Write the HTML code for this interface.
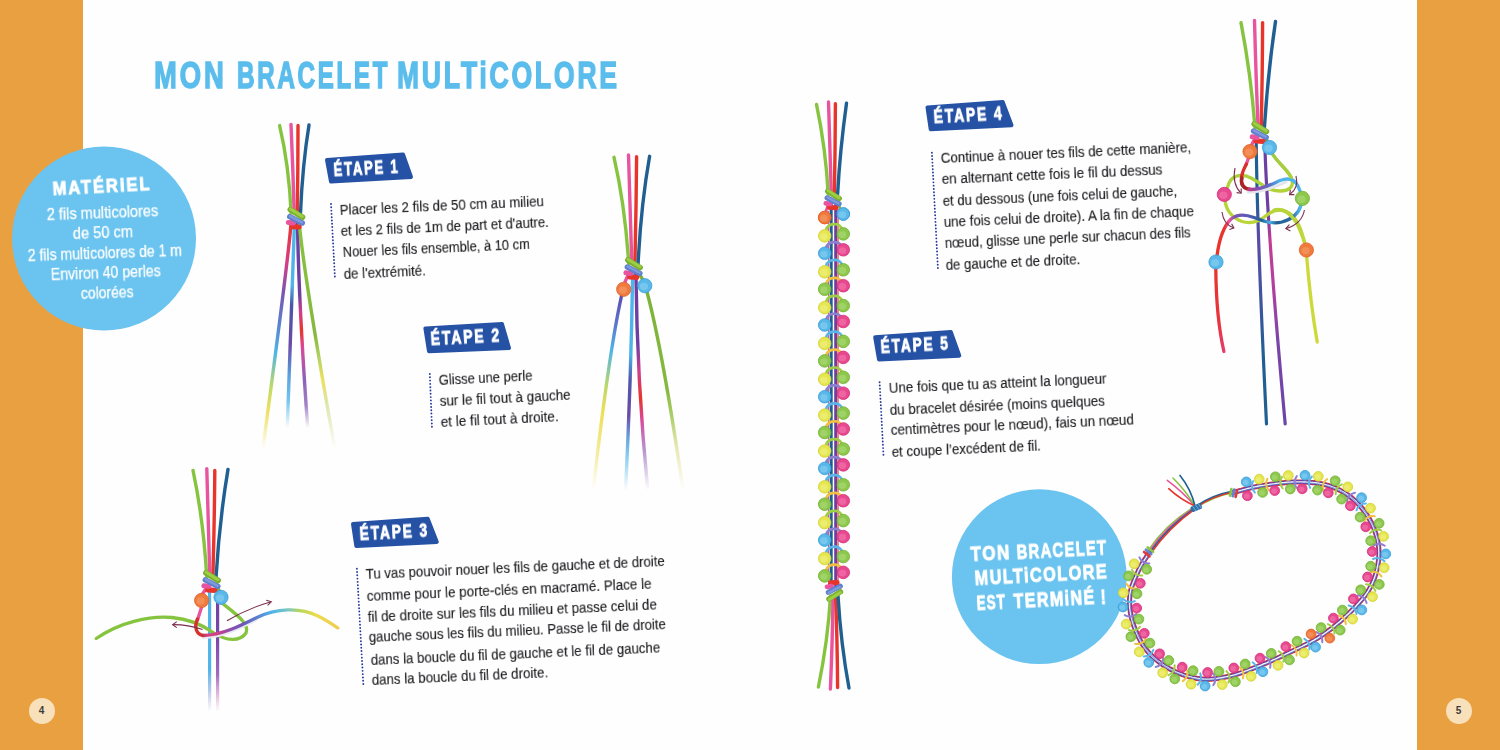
<!DOCTYPE html>
<html lang="fr"><head><meta charset="utf-8"><title>Mon bracelet multicolore</title>
<style>
html,body{margin:0;padding:0;}
body{width:1500px;height:750px;overflow:hidden;position:relative;background:#fefefe;font-family:"Liberation Sans",sans-serif;color:#2a2a2d;}
.bar{position:absolute;top:0;height:750px;background:#e9a040;}
#art{position:absolute;left:0;top:0;width:1500px;height:750px;}
.t{position:absolute;white-space:nowrap;line-height:1;will-change:transform;}
.body{color:#1f1f22;-webkit-text-stroke:0.15px #1f1f22;}
.mat{color:#fff;-webkit-text-stroke:0.25px #fff;}
.h{font-weight:bold;color:#fff;-webkit-text-stroke:0.9px #fff;}
.title{font-weight:bold;color:#5bbdec;-webkit-text-stroke:1.5px #5bbdec;}
.pg{position:absolute;width:26px;height:26px;border-radius:50%;background:#f8e0bb;color:#3d3d3d;font-size:10px;font-weight:bold;text-align:center;line-height:26px;}
</style></head><body>
<div class="bar" style="left:0;width:83px"></div>
<div class="bar" style="left:1417px;width:83px"></div>
<svg id="art" width="1500" height="750" viewBox="0 0 1500 750"><defs><linearGradient id="g1" gradientUnits="userSpaceOnUse" x1="0" y1="222" x2="0" y2="449"><stop offset="0.0" stop-color="#e7352c"/><stop offset="0.176" stop-color="#d83c86"/><stop offset="0.308" stop-color="#7a55b0"/><stop offset="0.454" stop-color="#5a82cf"/><stop offset="0.573" stop-color="#4fb4e9"/><stop offset="0.718" stop-color="#b9d86a"/><stop offset="0.828" stop-color="#ecdc4e" stop-opacity="0.9"/><stop offset="1.0" stop-color="#ecdc4e" stop-opacity="0"/></linearGradient><linearGradient id="g2" gradientUnits="userSpaceOnUse" x1="0" y1="222" x2="0" y2="428"><stop offset="0.0" stop-color="#4fb4e9"/><stop offset="0.306" stop-color="#4fb4e9"/><stop offset="0.403" stop-color="#4a55a8"/><stop offset="0.597" stop-color="#6a4aa8"/><stop offset="0.743" stop-color="#5aa0dc"/><stop offset="0.864" stop-color="#4fb4e9" stop-opacity="0.8"/><stop offset="1.0" stop-color="#4fb4e9" stop-opacity="0"/></linearGradient><linearGradient id="g3" gradientUnits="userSpaceOnUse" x1="0" y1="222" x2="0" y2="428"><stop offset="0.0" stop-color="#6d3fa2"/><stop offset="0.354" stop-color="#6d3fa2"/><stop offset="0.437" stop-color="#d13f8c"/><stop offset="0.524" stop-color="#e7352c"/><stop offset="0.612" stop-color="#d9489a"/><stop offset="0.767" stop-color="#8a62b8"/><stop offset="0.888" stop-color="#8a62b8" stop-opacity="0.8"/><stop offset="1.0" stop-color="#8a62b8" stop-opacity="0"/></linearGradient><linearGradient id="g4" gradientUnits="userSpaceOnUse" x1="0" y1="222" x2="0" y2="449"><stop offset="0.0" stop-color="#86c440"/><stop offset="0.498" stop-color="#86b83e"/><stop offset="0.599" stop-color="#b4d264"/><stop offset="0.696" stop-color="#ecdc4e" stop-opacity="0.9"/><stop offset="0.806" stop-color="#cfdc8a" stop-opacity="0.7"/><stop offset="1.0" stop-color="#cfdc8a" stop-opacity="0"/></linearGradient><linearGradient id="g5" gradientUnits="userSpaceOnUse" x1="0" y1="296" x2="0" y2="490"><stop offset="0.0" stop-color="#5b4fb0"/><stop offset="0.149" stop-color="#5a78cc"/><stop offset="0.278" stop-color="#4fb4e9"/><stop offset="0.459" stop-color="#b9d86a"/><stop offset="0.588" stop-color="#ecdc4e" stop-opacity="0.95"/><stop offset="0.742" stop-color="#ecdc4e" stop-opacity="0.7"/><stop offset="1.0" stop-color="#ecdc4e" stop-opacity="0"/></linearGradient><linearGradient id="g6" gradientUnits="userSpaceOnUse" x1="0" y1="272" x2="0" y2="490"><stop offset="0.0" stop-color="#4fb4e9"/><stop offset="0.381" stop-color="#4fb4e9"/><stop offset="0.495" stop-color="#4f57ad"/><stop offset="0.656" stop-color="#6a4aa8"/><stop offset="0.771" stop-color="#5aa0dc" stop-opacity="0.9"/><stop offset="0.862" stop-color="#4fb4e9" stop-opacity="0.6"/><stop offset="1.0" stop-color="#4fb4e9" stop-opacity="0"/></linearGradient><linearGradient id="g7" gradientUnits="userSpaceOnUse" x1="0" y1="272" x2="0" y2="490"><stop offset="0.0" stop-color="#6d3fa2"/><stop offset="0.335" stop-color="#6d3fa2"/><stop offset="0.459" stop-color="#d13f8c"/><stop offset="0.578" stop-color="#e7352c"/><stop offset="0.679" stop-color="#d9489a"/><stop offset="0.817" stop-color="#a57ac4" stop-opacity="0.8"/><stop offset="1.0" stop-color="#a57ac4" stop-opacity="0"/></linearGradient><linearGradient id="g8" gradientUnits="userSpaceOnUse" x1="0" y1="290" x2="0" y2="490"><stop offset="0.0" stop-color="#7db23a"/><stop offset="0.5" stop-color="#86b83e"/><stop offset="0.65" stop-color="#a9cc62" stop-opacity="0.9"/><stop offset="0.8" stop-color="#dcdc8a" stop-opacity="0.6"/><stop offset="1.0" stop-color="#dcdc8a" stop-opacity="0"/></linearGradient><linearGradient id="g9" gradientUnits="userSpaceOnUse" x1="0" y1="585" x2="0" y2="712"><stop offset="0.0" stop-color="#4fb4e9"/><stop offset="0.669" stop-color="#4fb4e9"/><stop offset="0.827" stop-color="#9dbbe6" stop-opacity="0.8"/><stop offset="1.0" stop-color="#c9b7e0" stop-opacity="0"/></linearGradient><linearGradient id="g10" gradientUnits="userSpaceOnUse" x1="0" y1="585" x2="0" y2="712"><stop offset="0.0" stop-color="#6d3fa2"/><stop offset="0.433" stop-color="#7a4aa8"/><stop offset="0.709" stop-color="#a06cc0"/><stop offset="0.866" stop-color="#d7a0d0" stop-opacity="0.7"/><stop offset="1.0" stop-color="#e0b0d8" stop-opacity="0"/></linearGradient><linearGradient id="g11" gradientUnits="userSpaceOnUse" x1="200" y1="0" x2="338" y2="0"><stop offset="0" stop-color="#b5282a"/><stop offset="0.05" stop-color="#d8407a"/><stop offset="0.13" stop-color="#cc3f8e"/><stop offset="0.22" stop-color="#8a4fb0"/><stop offset="0.32" stop-color="#6a58b8"/><stop offset="0.4" stop-color="#5a7ccc"/><stop offset="0.52" stop-color="#4fb4e9"/><stop offset="0.64" stop-color="#7cc8c0"/><stop offset="0.72" stop-color="#b6d65a"/><stop offset="0.84" stop-color="#ecdc4e"/><stop offset="1" stop-color="#f0cc50"/></linearGradient><linearGradient id="g12" gradientUnits="userSpaceOnUse" x1="0" y1="136" x2="0" y2="426"><stop offset="0.0" stop-color="#1f5f92"/><stop offset="0.221" stop-color="#1f5f92"/><stop offset="0.341" stop-color="#5a4aa8"/><stop offset="0.566" stop-color="#3f55a0"/><stop offset="0.772" stop-color="#1f5f92"/><stop offset="1.0" stop-color="#1f5f92"/></linearGradient><linearGradient id="g13" gradientUnits="userSpaceOnUse" x1="0" y1="136" x2="0" y2="426"><stop offset="0.0" stop-color="#6d3fa2"/><stop offset="0.272" stop-color="#6d3fa2"/><stop offset="0.359" stop-color="#c33c96"/><stop offset="0.531" stop-color="#b03fa0"/><stop offset="0.703" stop-color="#7a45a8"/><stop offset="1.0" stop-color="#6a45a8"/></linearGradient><linearGradient id="g14" gradientUnits="userSpaceOnUse" x1="0" y1="150" x2="0" y2="345"><stop offset="0.0" stop-color="#9ccb3e"/><stop offset="0.179" stop-color="#b0d23a"/><stop offset="0.41" stop-color="#bcd638"/><stop offset="0.564" stop-color="#c8d93a"/><stop offset="1.0" stop-color="#d6dc3c"/></linearGradient><linearGradient id="g15" gradientUnits="userSpaceOnUse" x1="1248" y1="0" x2="1300" y2="0"><stop offset="0" stop-color="#c43a80"/><stop offset="0.18" stop-color="#8a4fb0"/><stop offset="0.4" stop-color="#5a6cc4"/><stop offset="0.62" stop-color="#4fb4e9"/><stop offset="1" stop-color="#4fb4e9"/></linearGradient><linearGradient id="g16" gradientUnits="userSpaceOnUse" x1="1300" y1="0" x2="1216" y2="0"><stop offset="0" stop-color="#4fb4e9"/><stop offset="0.1" stop-color="#2f6aa8"/><stop offset="0.28" stop-color="#1f5f92"/><stop offset="0.36" stop-color="#4fb4e9"/><stop offset="0.46" stop-color="#1f5f92"/><stop offset="0.62" stop-color="#5a5ab8"/><stop offset="0.78" stop-color="#7a55b0"/><stop offset="0.84" stop-color="#e9549f"/><stop offset="0.9" stop-color="#e7352c"/><stop offset="1" stop-color="#e7352c"/></linearGradient><linearGradient id="g17" gradientUnits="userSpaceOnUse" x1="0" y1="268" x2="0" y2="352"><stop offset="0.0" stop-color="#e7352c"/><stop offset="0.619" stop-color="#e8343c"/><stop offset="1.0" stop-color="#e43d6c"/></linearGradient></defs><circle cx="104" cy="238.5" r="92" fill="#6bc4ef"/>
<circle cx="1039.3" cy="576.7" r="87.4" fill="#6bc4ef"/>
<path d="M327.0,160.0 L403.0,154.4 L411.0,177.0 L331.0,181.6 Z" fill="#2652a5" stroke="#2652a5" stroke-width="4" stroke-linejoin="round"/>
<path d="M425.4,328.5 L502.0,324.0 L509.0,348.0 L429.0,351.3 Z" fill="#2652a5" stroke="#2652a5" stroke-width="4" stroke-linejoin="round"/>
<path d="M353.0,524.0 L427.7,518.7 L436.8,542.0 L356.3,546.0 Z" fill="#2652a5" stroke="#2652a5" stroke-width="4" stroke-linejoin="round"/>
<path d="M927.5,107.5 L1002.7,102.0 L1011.5,125.3 L930.7,129.3 Z" fill="#2652a5" stroke="#2652a5" stroke-width="4" stroke-linejoin="round"/>
<path d="M875.2,337.3 L950.8,332.0 L959.3,355.7 L879.0,359.5 Z" fill="#2652a5" stroke="#2652a5" stroke-width="4" stroke-linejoin="round"/>
<line x1="331" y1="204" x2="335" y2="279" stroke="#27399a" stroke-width="1.9" stroke-linecap="round" stroke-dasharray="0 3.3"/>
<line x1="429.8" y1="374" x2="432" y2="428" stroke="#27399a" stroke-width="1.9" stroke-linecap="round" stroke-dasharray="0 3.3"/>
<line x1="356.9" y1="568.7" x2="363.4" y2="685.7" stroke="#27399a" stroke-width="1.9" stroke-linecap="round" stroke-dasharray="0 3.3"/>
<line x1="931.9" y1="152.7" x2="938" y2="270" stroke="#27399a" stroke-width="1.9" stroke-linecap="round" stroke-dasharray="0 3.3"/>
<line x1="879.6" y1="382.2" x2="883.5" y2="455.8" stroke="#27399a" stroke-width="1.9" stroke-linecap="round" stroke-dasharray="0 3.3"/>
<path d="M291.2,222 Q288,262 262.8,449" fill="none" stroke="url(#g1)" stroke-width="3.4" stroke-linecap="round" stroke-linejoin="round" />
<path d="M294.5,222 Q292,300 287.3,428" fill="none" stroke="url(#g2)" stroke-width="3.4" stroke-linecap="round" stroke-linejoin="round" />
<path d="M297.5,222 Q298.5,300 307.7,428" fill="none" stroke="url(#g3)" stroke-width="3.4" stroke-linecap="round" stroke-linejoin="round" />
<path d="M299.2,222 Q303,270 334.8,449" fill="none" stroke="url(#g4)" stroke-width="3.4" stroke-linecap="round" stroke-linejoin="round" />
<path d="M279.6,125.6 Q289,165 291.1,213" fill="none" stroke="#86c440" stroke-width="3.4" stroke-linecap="round" stroke-linejoin="round" />
<path d="M291,124.4 Q293,170 294.2,213" fill="none" stroke="#e9549f" stroke-width="3.4" stroke-linecap="round" stroke-linejoin="round" />
<path d="M298,125.5 Q298,170 297.3,213" fill="none" stroke="#e7352c" stroke-width="3.4" stroke-linecap="round" stroke-linejoin="round" />
<path d="M309,125 Q302.5,165 300.5,213" fill="none" stroke="#1f5f92" stroke-width="3.4" stroke-linecap="round" stroke-linejoin="round" />
<line x1="292.1" y1="226.6" x2="299.1" y2="227.0" stroke="#e7352c" stroke-width="5.20" stroke-linecap="round"/>
<line x1="288.3" y1="222.4" x2="293.2" y2="223.0" stroke="#e9549f" stroke-width="5.00" stroke-linecap="round"/>
<line x1="289.7" y1="216.6" x2="302.3" y2="223.0" stroke="#5f7fcf" stroke-width="5.40" stroke-linecap="round"/>
<line x1="290.1" y1="216.1" x2="301.9" y2="222.4" stroke="#7f9bdd" stroke-width="2.40" stroke-linecap="round"/>
<line x1="290.3" y1="209.6" x2="302.5" y2="217.2" stroke="#79b030" stroke-width="5.60" stroke-linecap="round"/>
<line x1="290.5" y1="209.0" x2="302.3" y2="216.4" stroke="#9fce45" stroke-width="3.00" stroke-linecap="round"/>
<path d="M621.5,296 Q609,352 593.2,490" fill="none" stroke="url(#g5)" stroke-width="3.4" stroke-linecap="round" stroke-linejoin="round" />
<path d="M632.6999999999999,272 Q631,380 625.6,490" fill="none" stroke="url(#g6)" stroke-width="3.4" stroke-linecap="round" stroke-linejoin="round" />
<path d="M635.9,272 Q637,380 647.7,490" fill="none" stroke="url(#g7)" stroke-width="3.4" stroke-linecap="round" stroke-linejoin="round" />
<path d="M647,292 Q663,352 683,490" fill="none" stroke="url(#g8)" stroke-width="3.4" stroke-linecap="round" stroke-linejoin="round" />
<path d="M628.3,274.4 L625,282" fill="none" stroke="#e9549f" stroke-width="3.4" stroke-linecap="round" stroke-linejoin="round" />
<path d="M638.3,272.4 L643,280" fill="none" stroke="#7db23a" stroke-width="3.4" stroke-linecap="round" stroke-linejoin="round" />
<path d="M614,157.3 Q625,205 628.7,263.4" fill="none" stroke="#86c440" stroke-width="3.4" stroke-linecap="round" stroke-linejoin="round" />
<path d="M628.5,155 Q630,210 631.8,263.4" fill="none" stroke="#e9549f" stroke-width="3.4" stroke-linecap="round" stroke-linejoin="round" />
<path d="M636.6,156.8 Q636.2,210 634.9,263.4" fill="none" stroke="#e7352c" stroke-width="3.4" stroke-linecap="round" stroke-linejoin="round" />
<path d="M649.6,156.3 Q641,205 638.1,263.4" fill="none" stroke="#1f5f92" stroke-width="3.4" stroke-linecap="round" stroke-linejoin="round" />
<line x1="629.7" y1="277.0" x2="636.7" y2="277.4" stroke="#e7352c" stroke-width="5.20" stroke-linecap="round"/>
<line x1="625.9" y1="272.8" x2="630.8" y2="273.4" stroke="#e9549f" stroke-width="5.00" stroke-linecap="round"/>
<line x1="627.3" y1="267.0" x2="639.9" y2="273.4" stroke="#5f7fcf" stroke-width="5.40" stroke-linecap="round"/>
<line x1="627.7" y1="266.5" x2="639.5" y2="272.8" stroke="#7f9bdd" stroke-width="2.40" stroke-linecap="round"/>
<line x1="627.9" y1="260.0" x2="640.1" y2="267.6" stroke="#79b030" stroke-width="5.60" stroke-linecap="round"/>
<line x1="628.1" y1="259.4" x2="639.9" y2="266.8" stroke="#9fce45" stroke-width="3.00" stroke-linecap="round"/>
<circle cx="623.7" cy="289.3" r="7.10" fill="#ef7a3c" stroke="#e2602a" stroke-width="0.8"/>
<ellipse cx="622.8" cy="290.1" rx="4.12" ry="3.75" fill="#f6a777" opacity="0.45"/>
<circle cx="644.8" cy="285.7" r="7.10" fill="#58b8ea" stroke="#3b9dd6" stroke-width="0.8"/>
<ellipse cx="643.9" cy="286.4" rx="4.12" ry="3.75" fill="#9bd6f5" opacity="0.45"/>
<path d="M209.6,585 L209.6,710" fill="none" stroke="url(#g9)" stroke-width="3.2" stroke-linecap="round" stroke-linejoin="round" />
<path d="M217.6,585 L217.6,710" fill="none" stroke="url(#g10)" stroke-width="3.2" stroke-linecap="round" stroke-linejoin="round" />
<path d="M96.2,638.5 C120,622 150,615.5 172,617.5 C190,619 204,626 214,633 C226,641 240,642 246,633 C250,624 236,614 222,603" fill="none" stroke="#86c440" stroke-width="3.3" stroke-linecap="round" stroke-linejoin="round" />
<path d="M201.6,607 L197.5,620" fill="none" stroke="#e9549f" stroke-width="3.3" stroke-linecap="round" stroke-linejoin="round" />
<path d="M197.5,619 C194,627 196,634 203,635.5" fill="none" stroke="#d8312c" stroke-width="3.4" stroke-linecap="round" stroke-linejoin="round" />
<path d="M203,637.5 C222,637 240,628 256,619.7" fill="none" stroke="#e8e8ee" stroke-width="3.0" stroke-linecap="round" stroke-linejoin="round" />
<path d="M203,635.5 C222,635 240,626 256.4,617.7 C276,608 300,607 318,616 C326,620 332,624 337.8,628" fill="none" stroke="url(#g11)" stroke-width="3.3" stroke-linecap="round" stroke-linejoin="round" />
<path d="M206.8,587.3 L202.5,594" fill="none" stroke="#e9549f" stroke-width="3.4" stroke-linecap="round" stroke-linejoin="round" />
<path d="M215.8,585.3 L220,592" fill="none" stroke="#7db23a" stroke-width="3.4" stroke-linecap="round" stroke-linejoin="round" />
<path d="M193,470.4 Q203.5,520 206.7,576.3" fill="none" stroke="#86c440" stroke-width="3.4" stroke-linecap="round" stroke-linejoin="round" />
<path d="M206.8,468.7 Q208.2,525 209.8,576.3" fill="none" stroke="#e9549f" stroke-width="3.4" stroke-linecap="round" stroke-linejoin="round" />
<path d="M214.8,470.4 Q214.4,525 212.9,576.3" fill="none" stroke="#e7352c" stroke-width="3.4" stroke-linecap="round" stroke-linejoin="round" />
<path d="M228,469.4 Q219.5,520 216.1,576.3" fill="none" stroke="#1f5f92" stroke-width="3.4" stroke-linecap="round" stroke-linejoin="round" />
<line x1="207.7" y1="589.9" x2="214.7" y2="590.3" stroke="#e7352c" stroke-width="5.20" stroke-linecap="round"/>
<line x1="203.9" y1="585.7" x2="208.8" y2="586.3" stroke="#e9549f" stroke-width="5.00" stroke-linecap="round"/>
<line x1="205.3" y1="579.9" x2="217.9" y2="586.3" stroke="#5f7fcf" stroke-width="5.40" stroke-linecap="round"/>
<line x1="205.7" y1="579.4" x2="217.5" y2="585.7" stroke="#7f9bdd" stroke-width="2.40" stroke-linecap="round"/>
<line x1="205.9" y1="572.9" x2="218.1" y2="580.5" stroke="#79b030" stroke-width="5.60" stroke-linecap="round"/>
<line x1="206.1" y1="572.3" x2="217.9" y2="579.7" stroke="#9fce45" stroke-width="3.00" stroke-linecap="round"/>
<circle cx="201.6" cy="600.4" r="7.10" fill="#ef7a3c" stroke="#e2602a" stroke-width="0.8"/>
<ellipse cx="200.7" cy="601.1" rx="4.12" ry="3.75" fill="#f6a777" opacity="0.45"/>
<circle cx="221.0" cy="597.3" r="7.10" fill="#58b8ea" stroke="#3b9dd6" stroke-width="0.8"/>
<ellipse cx="220.1" cy="598.0" rx="4.12" ry="3.75" fill="#9bd6f5" opacity="0.45"/>
<path d="M227,620.8 C240,613 256,606 270.5,602" fill="none" stroke="#7b2f4d" stroke-width="1.1"/>
<path d="M266.2,600.2 L271.3,601.8 L267.6,605.4" fill="none" stroke="#7b2f4d" stroke-width="1.1"/>
<path d="M202.6,629.6 C192,626 182,624.5 173.2,624.6" fill="none" stroke="#7b2f4d" stroke-width="1.1"/>
<path d="M176.8,621.6 L172.6,624.7 L176.8,627.6" fill="none" stroke="#7b2f4d" stroke-width="1.1"/>
<path d="M816.5,104.4 Q826,150 828.2,194.2" fill="none" stroke="#86c440" stroke-width="3.4" stroke-linecap="round" stroke-linejoin="round" />
<path d="M828.5,102 Q829.8,150 831.3,194.2" fill="none" stroke="#e9549f" stroke-width="3.4" stroke-linecap="round" stroke-linejoin="round" />
<path d="M835.4,103.7 Q835.2,150 834.4,194.2" fill="none" stroke="#e7352c" stroke-width="3.4" stroke-linecap="round" stroke-linejoin="round" />
<path d="M846.5,103.2 Q840,150 837.6,194.2" fill="none" stroke="#1f5f92" stroke-width="3.4" stroke-linecap="round" stroke-linejoin="round" />
<path d="M830.5,596 Q828,640 818.4,687" fill="none" stroke="#86c440" stroke-width="3.4" stroke-linecap="round" stroke-linejoin="round" />
<path d="M833,596 Q832.5,640 830.4,689" fill="none" stroke="#e9549f" stroke-width="3.4" stroke-linecap="round" stroke-linejoin="round" />
<path d="M835.6,596 Q837.3,640 837.6,687.5" fill="none" stroke="#e7352c" stroke-width="3.4" stroke-linecap="round" stroke-linejoin="round" />
<path d="M838,596 Q841,645 849,688" fill="none" stroke="#1f5f92" stroke-width="3.4" stroke-linecap="round" stroke-linejoin="round" />
<path d="M831.2,203.2 L831.2,587" fill="none" stroke="#1f5f92" stroke-width="3.0" stroke-linecap="round" stroke-linejoin="round" />
<path d="M835.6,203.2 L835.6,587" fill="none" stroke="#6d3fa2" stroke-width="2.8" stroke-linecap="round" stroke-linejoin="round" />
<path d="M838.0,209.2 L838.0,585" fill="none" stroke="#e7352c" stroke-width="1.2" stroke-linecap="round" stroke-linejoin="round" />
<path d="M828.6,211.2 L828.6,585" fill="none" stroke="#d94a8e" stroke-width="1.0" stroke-linecap="round" stroke-linejoin="round" />
<circle cx="824.7" cy="217.5" r="6.30" fill="#ef7a3c" stroke="#e2602a" stroke-width="0.8"/>
<ellipse cx="823.9" cy="218.2" rx="3.69" ry="3.35" fill="#f6a777" opacity="0.45"/>
<circle cx="843.3" cy="214.0" r="6.30" fill="#58b8ea" stroke="#3b9dd6" stroke-width="0.8"/>
<ellipse cx="842.5" cy="214.7" rx="3.69" ry="3.35" fill="#9bd6f5" opacity="0.45"/>
<path d="M826.5,229.42000000000002 L826.0,232.92000000000002" fill="none" stroke="#e9549f" stroke-width="2.4" stroke-linecap="round" stroke-linejoin="round" />
<path d="M841.5,228.42000000000002 L842.5,231.92000000000002" fill="none" stroke="#e7352c" stroke-width="2.4" stroke-linecap="round" stroke-linejoin="round" />
<path d="M826.0,229.92000000000002 C828.0,222.92000000000002 839.0,221.92000000000002 842.0,228.92000000000002" fill="none" stroke="#9fce45" stroke-width="2.7" stroke-linecap="round" stroke-linejoin="round" />
<circle cx="824.7" cy="235.9" r="6.30" fill="#e6e64f" stroke="#cfd238" stroke-width="0.8"/>
<ellipse cx="823.9" cy="236.6" rx="3.69" ry="3.35" fill="#f3f39a" opacity="0.45"/>
<circle cx="843.3" cy="233.9" r="6.30" fill="#8dc84c" stroke="#72b136" stroke-width="0.8"/>
<ellipse cx="842.5" cy="234.6" rx="3.69" ry="3.35" fill="#b9e08a" opacity="0.45"/>
<path d="M826.5,247.34 L826.0,250.84" fill="none" stroke="#e7352c" stroke-width="2.4" stroke-linecap="round" stroke-linejoin="round" />
<path d="M841.5,246.34 L842.5,249.84" fill="none" stroke="#4fb4e9" stroke-width="2.4" stroke-linecap="round" stroke-linejoin="round" />
<path d="M826.0,247.84 C828.0,240.84 839.0,239.84 842.0,246.84" fill="none" stroke="#8f7fd0" stroke-width="2.7" stroke-linecap="round" stroke-linejoin="round" />
<circle cx="824.7" cy="253.3" r="6.30" fill="#58b8ea" stroke="#3b9dd6" stroke-width="0.8"/>
<ellipse cx="823.9" cy="254.0" rx="3.69" ry="3.35" fill="#9bd6f5" opacity="0.45"/>
<circle cx="843.3" cy="249.8" r="6.30" fill="#e8488f" stroke="#d62f7a" stroke-width="0.8"/>
<ellipse cx="842.5" cy="250.5" rx="3.69" ry="3.35" fill="#f38bb8" opacity="0.45"/>
<path d="M826.5,265.26 L826.0,268.76" fill="none" stroke="#4fb4e9" stroke-width="2.4" stroke-linecap="round" stroke-linejoin="round" />
<path d="M841.5,264.26 L842.5,267.76" fill="none" stroke="#e9549f" stroke-width="2.4" stroke-linecap="round" stroke-linejoin="round" />
<path d="M826.0,265.76 C828.0,258.76 839.0,257.76 842.0,264.76" fill="none" stroke="#5ab5e8" stroke-width="2.7" stroke-linecap="round" stroke-linejoin="round" />
<circle cx="824.7" cy="271.8" r="6.30" fill="#e6e64f" stroke="#cfd238" stroke-width="0.8"/>
<ellipse cx="823.9" cy="272.4" rx="3.69" ry="3.35" fill="#f3f39a" opacity="0.45"/>
<circle cx="843.3" cy="269.8" r="6.30" fill="#8dc84c" stroke="#72b136" stroke-width="0.8"/>
<ellipse cx="842.5" cy="270.4" rx="3.69" ry="3.35" fill="#b9e08a" opacity="0.45"/>
<path d="M826.5,283.18 L826.0,286.68" fill="none" stroke="#e9549f" stroke-width="2.4" stroke-linecap="round" stroke-linejoin="round" />
<path d="M841.5,282.18 L842.5,285.68" fill="none" stroke="#e9549f" stroke-width="2.4" stroke-linecap="round" stroke-linejoin="round" />
<path d="M826.0,283.68 C828.0,276.68 839.0,275.68 842.0,282.68" fill="none" stroke="#f2c040" stroke-width="2.7" stroke-linecap="round" stroke-linejoin="round" />
<circle cx="824.7" cy="289.2" r="6.30" fill="#8dc84c" stroke="#72b136" stroke-width="0.8"/>
<ellipse cx="823.9" cy="289.9" rx="3.69" ry="3.35" fill="#b9e08a" opacity="0.45"/>
<circle cx="843.3" cy="285.7" r="6.30" fill="#e8488f" stroke="#d62f7a" stroke-width="0.8"/>
<ellipse cx="842.5" cy="286.4" rx="3.69" ry="3.35" fill="#f38bb8" opacity="0.45"/>
<path d="M826.5,301.1 L826.0,304.6" fill="none" stroke="#e9549f" stroke-width="2.4" stroke-linecap="round" stroke-linejoin="round" />
<path d="M841.5,300.1 L842.5,303.6" fill="none" stroke="#e7352c" stroke-width="2.4" stroke-linecap="round" stroke-linejoin="round" />
<path d="M826.0,301.6 C828.0,294.6 839.0,293.6 842.0,300.6" fill="none" stroke="#9fce45" stroke-width="2.7" stroke-linecap="round" stroke-linejoin="round" />
<circle cx="824.7" cy="307.6" r="6.30" fill="#e6e64f" stroke="#cfd238" stroke-width="0.8"/>
<ellipse cx="823.9" cy="308.3" rx="3.69" ry="3.35" fill="#f3f39a" opacity="0.45"/>
<circle cx="843.3" cy="305.6" r="6.30" fill="#8dc84c" stroke="#72b136" stroke-width="0.8"/>
<ellipse cx="842.5" cy="306.3" rx="3.69" ry="3.35" fill="#b9e08a" opacity="0.45"/>
<path d="M826.5,319.02 L826.0,322.52" fill="none" stroke="#e7352c" stroke-width="2.4" stroke-linecap="round" stroke-linejoin="round" />
<path d="M841.5,318.02 L842.5,321.52" fill="none" stroke="#4fb4e9" stroke-width="2.4" stroke-linecap="round" stroke-linejoin="round" />
<path d="M826.0,319.52 C828.0,312.52 839.0,311.52 842.0,318.52" fill="none" stroke="#8f7fd0" stroke-width="2.7" stroke-linecap="round" stroke-linejoin="round" />
<circle cx="824.7" cy="325.0" r="6.30" fill="#58b8ea" stroke="#3b9dd6" stroke-width="0.8"/>
<ellipse cx="823.9" cy="325.7" rx="3.69" ry="3.35" fill="#9bd6f5" opacity="0.45"/>
<circle cx="843.3" cy="321.5" r="6.30" fill="#e8488f" stroke="#d62f7a" stroke-width="0.8"/>
<ellipse cx="842.5" cy="322.2" rx="3.69" ry="3.35" fill="#f38bb8" opacity="0.45"/>
<path d="M826.5,336.94 L826.0,340.44" fill="none" stroke="#4fb4e9" stroke-width="2.4" stroke-linecap="round" stroke-linejoin="round" />
<path d="M841.5,335.94 L842.5,339.44" fill="none" stroke="#e9549f" stroke-width="2.4" stroke-linecap="round" stroke-linejoin="round" />
<path d="M826.0,337.44 C828.0,330.44 839.0,329.44 842.0,336.44" fill="none" stroke="#5ab5e8" stroke-width="2.7" stroke-linecap="round" stroke-linejoin="round" />
<circle cx="824.7" cy="343.4" r="6.30" fill="#e6e64f" stroke="#cfd238" stroke-width="0.8"/>
<ellipse cx="823.9" cy="344.1" rx="3.69" ry="3.35" fill="#f3f39a" opacity="0.45"/>
<circle cx="843.3" cy="341.4" r="6.30" fill="#8dc84c" stroke="#72b136" stroke-width="0.8"/>
<ellipse cx="842.5" cy="342.1" rx="3.69" ry="3.35" fill="#b9e08a" opacity="0.45"/>
<path d="M826.5,354.86 L826.0,358.36" fill="none" stroke="#e9549f" stroke-width="2.4" stroke-linecap="round" stroke-linejoin="round" />
<path d="M841.5,353.86 L842.5,357.36" fill="none" stroke="#e9549f" stroke-width="2.4" stroke-linecap="round" stroke-linejoin="round" />
<path d="M826.0,355.36 C828.0,348.36 839.0,347.36 842.0,354.36" fill="none" stroke="#f2c040" stroke-width="2.7" stroke-linecap="round" stroke-linejoin="round" />
<circle cx="824.7" cy="360.9" r="6.30" fill="#8dc84c" stroke="#72b136" stroke-width="0.8"/>
<ellipse cx="823.9" cy="361.5" rx="3.69" ry="3.35" fill="#b9e08a" opacity="0.45"/>
<circle cx="843.3" cy="357.4" r="6.30" fill="#e8488f" stroke="#d62f7a" stroke-width="0.8"/>
<ellipse cx="842.5" cy="358.0" rx="3.69" ry="3.35" fill="#f38bb8" opacity="0.45"/>
<path d="M826.5,372.78000000000003 L826.0,376.28000000000003" fill="none" stroke="#e9549f" stroke-width="2.4" stroke-linecap="round" stroke-linejoin="round" />
<path d="M841.5,371.78000000000003 L842.5,375.28000000000003" fill="none" stroke="#e7352c" stroke-width="2.4" stroke-linecap="round" stroke-linejoin="round" />
<path d="M826.0,373.28000000000003 C828.0,366.28000000000003 839.0,365.28000000000003 842.0,372.28000000000003" fill="none" stroke="#9fce45" stroke-width="2.7" stroke-linecap="round" stroke-linejoin="round" />
<circle cx="824.7" cy="379.3" r="6.30" fill="#e6e64f" stroke="#cfd238" stroke-width="0.8"/>
<ellipse cx="823.9" cy="380.0" rx="3.69" ry="3.35" fill="#f3f39a" opacity="0.45"/>
<circle cx="843.3" cy="377.3" r="6.30" fill="#8dc84c" stroke="#72b136" stroke-width="0.8"/>
<ellipse cx="842.5" cy="378.0" rx="3.69" ry="3.35" fill="#b9e08a" opacity="0.45"/>
<path d="M826.5,390.70000000000005 L826.0,394.20000000000005" fill="none" stroke="#e7352c" stroke-width="2.4" stroke-linecap="round" stroke-linejoin="round" />
<path d="M841.5,389.70000000000005 L842.5,393.20000000000005" fill="none" stroke="#4fb4e9" stroke-width="2.4" stroke-linecap="round" stroke-linejoin="round" />
<path d="M826.0,391.20000000000005 C828.0,384.20000000000005 839.0,383.20000000000005 842.0,390.20000000000005" fill="none" stroke="#8f7fd0" stroke-width="2.7" stroke-linecap="round" stroke-linejoin="round" />
<circle cx="824.7" cy="396.7" r="6.30" fill="#58b8ea" stroke="#3b9dd6" stroke-width="0.8"/>
<ellipse cx="823.9" cy="397.4" rx="3.69" ry="3.35" fill="#9bd6f5" opacity="0.45"/>
<circle cx="843.3" cy="393.2" r="6.30" fill="#e8488f" stroke="#d62f7a" stroke-width="0.8"/>
<ellipse cx="842.5" cy="393.9" rx="3.69" ry="3.35" fill="#f38bb8" opacity="0.45"/>
<path d="M826.5,408.62 L826.0,412.12" fill="none" stroke="#4fb4e9" stroke-width="2.4" stroke-linecap="round" stroke-linejoin="round" />
<path d="M841.5,407.62 L842.5,411.12" fill="none" stroke="#e9549f" stroke-width="2.4" stroke-linecap="round" stroke-linejoin="round" />
<path d="M826.0,409.12 C828.0,402.12 839.0,401.12 842.0,408.12" fill="none" stroke="#5ab5e8" stroke-width="2.7" stroke-linecap="round" stroke-linejoin="round" />
<circle cx="824.7" cy="415.1" r="6.30" fill="#e6e64f" stroke="#cfd238" stroke-width="0.8"/>
<ellipse cx="823.9" cy="415.8" rx="3.69" ry="3.35" fill="#f3f39a" opacity="0.45"/>
<circle cx="843.3" cy="413.1" r="6.30" fill="#8dc84c" stroke="#72b136" stroke-width="0.8"/>
<ellipse cx="842.5" cy="413.8" rx="3.69" ry="3.35" fill="#b9e08a" opacity="0.45"/>
<path d="M826.5,426.54 L826.0,430.04" fill="none" stroke="#e9549f" stroke-width="2.4" stroke-linecap="round" stroke-linejoin="round" />
<path d="M841.5,425.54 L842.5,429.04" fill="none" stroke="#e9549f" stroke-width="2.4" stroke-linecap="round" stroke-linejoin="round" />
<path d="M826.0,427.04 C828.0,420.04 839.0,419.04 842.0,426.04" fill="none" stroke="#f2c040" stroke-width="2.7" stroke-linecap="round" stroke-linejoin="round" />
<circle cx="824.7" cy="432.5" r="6.30" fill="#8dc84c" stroke="#72b136" stroke-width="0.8"/>
<ellipse cx="823.9" cy="433.2" rx="3.69" ry="3.35" fill="#b9e08a" opacity="0.45"/>
<circle cx="843.3" cy="429.0" r="6.30" fill="#e8488f" stroke="#d62f7a" stroke-width="0.8"/>
<ellipse cx="842.5" cy="429.7" rx="3.69" ry="3.35" fill="#f38bb8" opacity="0.45"/>
<path d="M826.5,444.46000000000004 L826.0,447.96000000000004" fill="none" stroke="#e9549f" stroke-width="2.4" stroke-linecap="round" stroke-linejoin="round" />
<path d="M841.5,443.46000000000004 L842.5,446.96000000000004" fill="none" stroke="#e7352c" stroke-width="2.4" stroke-linecap="round" stroke-linejoin="round" />
<path d="M826.0,444.96000000000004 C828.0,437.96000000000004 839.0,436.96000000000004 842.0,443.96000000000004" fill="none" stroke="#9fce45" stroke-width="2.7" stroke-linecap="round" stroke-linejoin="round" />
<circle cx="824.7" cy="451.0" r="6.30" fill="#e6e64f" stroke="#cfd238" stroke-width="0.8"/>
<ellipse cx="823.9" cy="451.6" rx="3.69" ry="3.35" fill="#f3f39a" opacity="0.45"/>
<circle cx="843.3" cy="449.0" r="6.30" fill="#8dc84c" stroke="#72b136" stroke-width="0.8"/>
<ellipse cx="842.5" cy="449.6" rx="3.69" ry="3.35" fill="#b9e08a" opacity="0.45"/>
<path d="M826.5,462.38 L826.0,465.88" fill="none" stroke="#e7352c" stroke-width="2.4" stroke-linecap="round" stroke-linejoin="round" />
<path d="M841.5,461.38 L842.5,464.88" fill="none" stroke="#4fb4e9" stroke-width="2.4" stroke-linecap="round" stroke-linejoin="round" />
<path d="M826.0,462.88 C828.0,455.88 839.0,454.88 842.0,461.88" fill="none" stroke="#8f7fd0" stroke-width="2.7" stroke-linecap="round" stroke-linejoin="round" />
<circle cx="824.7" cy="468.4" r="6.30" fill="#58b8ea" stroke="#3b9dd6" stroke-width="0.8"/>
<ellipse cx="823.9" cy="469.1" rx="3.69" ry="3.35" fill="#9bd6f5" opacity="0.45"/>
<circle cx="843.3" cy="464.9" r="6.30" fill="#e8488f" stroke="#d62f7a" stroke-width="0.8"/>
<ellipse cx="842.5" cy="465.6" rx="3.69" ry="3.35" fill="#f38bb8" opacity="0.45"/>
<path d="M826.5,480.3 L826.0,483.8" fill="none" stroke="#4fb4e9" stroke-width="2.4" stroke-linecap="round" stroke-linejoin="round" />
<path d="M841.5,479.3 L842.5,482.8" fill="none" stroke="#e9549f" stroke-width="2.4" stroke-linecap="round" stroke-linejoin="round" />
<path d="M826.0,480.8 C828.0,473.8 839.0,472.8 842.0,479.8" fill="none" stroke="#5ab5e8" stroke-width="2.7" stroke-linecap="round" stroke-linejoin="round" />
<circle cx="824.7" cy="486.8" r="6.30" fill="#e6e64f" stroke="#cfd238" stroke-width="0.8"/>
<ellipse cx="823.9" cy="487.5" rx="3.69" ry="3.35" fill="#f3f39a" opacity="0.45"/>
<circle cx="843.3" cy="484.8" r="6.30" fill="#8dc84c" stroke="#72b136" stroke-width="0.8"/>
<ellipse cx="842.5" cy="485.5" rx="3.69" ry="3.35" fill="#b9e08a" opacity="0.45"/>
<path d="M826.5,498.22 L826.0,501.72" fill="none" stroke="#e9549f" stroke-width="2.4" stroke-linecap="round" stroke-linejoin="round" />
<path d="M841.5,497.22 L842.5,500.72" fill="none" stroke="#e9549f" stroke-width="2.4" stroke-linecap="round" stroke-linejoin="round" />
<path d="M826.0,498.72 C828.0,491.72 839.0,490.72 842.0,497.72" fill="none" stroke="#f2c040" stroke-width="2.7" stroke-linecap="round" stroke-linejoin="round" />
<circle cx="824.7" cy="504.2" r="6.30" fill="#8dc84c" stroke="#72b136" stroke-width="0.8"/>
<ellipse cx="823.9" cy="504.9" rx="3.69" ry="3.35" fill="#b9e08a" opacity="0.45"/>
<circle cx="843.3" cy="500.7" r="6.30" fill="#e8488f" stroke="#d62f7a" stroke-width="0.8"/>
<ellipse cx="842.5" cy="501.4" rx="3.69" ry="3.35" fill="#f38bb8" opacity="0.45"/>
<path d="M826.5,516.1400000000001 L826.0,519.6400000000001" fill="none" stroke="#e9549f" stroke-width="2.4" stroke-linecap="round" stroke-linejoin="round" />
<path d="M841.5,515.1400000000001 L842.5,518.6400000000001" fill="none" stroke="#e7352c" stroke-width="2.4" stroke-linecap="round" stroke-linejoin="round" />
<path d="M826.0,516.6400000000001 C828.0,509.6400000000001 839.0,508.6400000000001 842.0,515.6400000000001" fill="none" stroke="#9fce45" stroke-width="2.7" stroke-linecap="round" stroke-linejoin="round" />
<circle cx="824.7" cy="522.6" r="6.30" fill="#e6e64f" stroke="#cfd238" stroke-width="0.8"/>
<ellipse cx="823.9" cy="523.3" rx="3.69" ry="3.35" fill="#f3f39a" opacity="0.45"/>
<circle cx="843.3" cy="520.6" r="6.30" fill="#8dc84c" stroke="#72b136" stroke-width="0.8"/>
<ellipse cx="842.5" cy="521.3" rx="3.69" ry="3.35" fill="#b9e08a" opacity="0.45"/>
<path d="M826.5,534.0600000000001 L826.0,537.5600000000001" fill="none" stroke="#e7352c" stroke-width="2.4" stroke-linecap="round" stroke-linejoin="round" />
<path d="M841.5,533.0600000000001 L842.5,536.5600000000001" fill="none" stroke="#4fb4e9" stroke-width="2.4" stroke-linecap="round" stroke-linejoin="round" />
<path d="M826.0,534.5600000000001 C828.0,527.5600000000001 839.0,526.5600000000001 842.0,533.5600000000001" fill="none" stroke="#8f7fd0" stroke-width="2.7" stroke-linecap="round" stroke-linejoin="round" />
<circle cx="824.7" cy="540.1" r="6.30" fill="#58b8ea" stroke="#3b9dd6" stroke-width="0.8"/>
<ellipse cx="823.9" cy="540.7" rx="3.69" ry="3.35" fill="#9bd6f5" opacity="0.45"/>
<circle cx="843.3" cy="536.6" r="6.30" fill="#e8488f" stroke="#d62f7a" stroke-width="0.8"/>
<ellipse cx="842.5" cy="537.2" rx="3.69" ry="3.35" fill="#f38bb8" opacity="0.45"/>
<path d="M826.5,551.98 L826.0,555.48" fill="none" stroke="#4fb4e9" stroke-width="2.4" stroke-linecap="round" stroke-linejoin="round" />
<path d="M841.5,550.98 L842.5,554.48" fill="none" stroke="#e9549f" stroke-width="2.4" stroke-linecap="round" stroke-linejoin="round" />
<path d="M826.0,552.48 C828.0,545.48 839.0,544.48 842.0,551.48" fill="none" stroke="#5ab5e8" stroke-width="2.7" stroke-linecap="round" stroke-linejoin="round" />
<circle cx="824.7" cy="558.5" r="6.30" fill="#e6e64f" stroke="#cfd238" stroke-width="0.8"/>
<ellipse cx="823.9" cy="559.1" rx="3.69" ry="3.35" fill="#f3f39a" opacity="0.45"/>
<circle cx="843.3" cy="556.5" r="6.30" fill="#8dc84c" stroke="#72b136" stroke-width="0.8"/>
<ellipse cx="842.5" cy="557.1" rx="3.69" ry="3.35" fill="#b9e08a" opacity="0.45"/>
<path d="M826.5,569.9000000000001 L826.0,573.4000000000001" fill="none" stroke="#e9549f" stroke-width="2.4" stroke-linecap="round" stroke-linejoin="round" />
<path d="M841.5,568.9000000000001 L842.5,572.4000000000001" fill="none" stroke="#e9549f" stroke-width="2.4" stroke-linecap="round" stroke-linejoin="round" />
<path d="M826.0,570.4000000000001 C828.0,563.4000000000001 839.0,562.4000000000001 842.0,569.4000000000001" fill="none" stroke="#f2c040" stroke-width="2.7" stroke-linecap="round" stroke-linejoin="round" />
<circle cx="824.7" cy="575.9" r="6.30" fill="#8dc84c" stroke="#72b136" stroke-width="0.8"/>
<ellipse cx="823.9" cy="576.6" rx="3.69" ry="3.35" fill="#b9e08a" opacity="0.45"/>
<circle cx="843.3" cy="572.4" r="6.30" fill="#e8488f" stroke="#d62f7a" stroke-width="0.8"/>
<ellipse cx="842.5" cy="573.1" rx="3.69" ry="3.35" fill="#f38bb8" opacity="0.45"/>
<path d="M827.8,205.2 L826,211" fill="none" stroke="#e9549f" stroke-width="2.6" stroke-linecap="round" stroke-linejoin="round" />
<path d="M837.8,203.2 L840,208" fill="none" stroke="#7db23a" stroke-width="2.6" stroke-linecap="round" stroke-linejoin="round" />
<line x1="829.4" y1="207.4" x2="836.0" y2="207.8" stroke="#e7352c" stroke-width="4.94" stroke-linecap="round"/>
<line x1="825.8" y1="203.4" x2="830.4" y2="203.9" stroke="#e9549f" stroke-width="4.75" stroke-linecap="round"/>
<line x1="827.1" y1="197.9" x2="839.1" y2="203.9" stroke="#5f7fcf" stroke-width="5.13" stroke-linecap="round"/>
<line x1="827.5" y1="197.4" x2="838.7" y2="203.4" stroke="#7f9bdd" stroke-width="2.28" stroke-linecap="round"/>
<line x1="827.7" y1="191.2" x2="839.3" y2="198.4" stroke="#79b030" stroke-width="5.32" stroke-linecap="round"/>
<line x1="827.9" y1="190.6" x2="839.1" y2="197.7" stroke="#9fce45" stroke-width="2.85" stroke-linecap="round"/>
<circle cx="824.7" cy="217.5" r="6.30" fill="#ef7a3c" stroke="#e2602a" stroke-width="0.8"/>
<ellipse cx="823.9" cy="218.2" rx="3.69" ry="3.35" fill="#f6a777" opacity="0.45"/>
<circle cx="843.3" cy="214.0" r="6.30" fill="#58b8ea" stroke="#3b9dd6" stroke-width="0.8"/>
<ellipse cx="842.5" cy="214.7" rx="3.69" ry="3.35" fill="#9bd6f5" opacity="0.45"/>
<line x1="830.6" y1="582.8" x2="837.2" y2="582.5" stroke="#e7352c" stroke-width="4.94" stroke-linecap="round"/>
<line x1="827.0" y1="586.8" x2="831.6" y2="586.2" stroke="#e9549f" stroke-width="4.75" stroke-linecap="round"/>
<line x1="828.3" y1="592.3" x2="840.3" y2="586.2" stroke="#5f7fcf" stroke-width="5.13" stroke-linecap="round"/>
<line x1="828.7" y1="592.8" x2="839.9" y2="586.8" stroke="#7f9bdd" stroke-width="2.28" stroke-linecap="round"/>
<line x1="828.9" y1="599.0" x2="840.5" y2="591.8" stroke="#79b030" stroke-width="5.32" stroke-linecap="round"/>
<line x1="829.1" y1="599.5" x2="840.3" y2="592.5" stroke="#9fce45" stroke-width="2.85" stroke-linecap="round"/>
<path d="M1256.2,136 Q1256.6,220 1266.5,424" fill="none" stroke="url(#g12)" stroke-width="3.2" stroke-linecap="round" stroke-linejoin="round" />
<path d="M1264.6,136 Q1266.5,220 1285.2,424" fill="none" stroke="url(#g13)" stroke-width="3.2" stroke-linecap="round" stroke-linejoin="round" />
<path d="M1272.5,154 C1278,163 1286,168 1291,177 C1295,186 1290,191 1280,191 C1268,191 1262,184 1252,178.5 C1243,173.5 1233,174.5 1229,183 L1226.5,190" fill="none" stroke="url(#g14)" stroke-width="3.3" stroke-linecap="round" stroke-linejoin="round" />
<path d="M1225.2,201 C1226,210 1232,218 1242,221.5 C1252,224.5 1260,221 1267,215 C1274,209.5 1282,208.5 1289,213 C1298,219 1302,232 1305,244" fill="none" stroke="url(#g14)" stroke-width="3.3" stroke-linecap="round" stroke-linejoin="round" />
<path d="M1306.6,256 C1309,285 1313,318 1317.2,342" fill="none" stroke="#cdd93a" stroke-width="3.3" stroke-linecap="round" stroke-linejoin="round" />
<path d="M1248.5,158 L1246,165" fill="none" stroke="#e9549f" stroke-width="3.3" stroke-linecap="round" stroke-linejoin="round" />
<path d="M1246.4,164 C1242,172 1239.5,180 1243,185.5 C1245,188.5 1248,189.5 1251,189.5" fill="none" stroke="#d8302c" stroke-width="3.3" stroke-linecap="round" stroke-linejoin="round" />
<path d="M1242,178 C1240,184 1243,188.5 1250,189.5" fill="none" stroke="#a8242a" stroke-width="3.3" stroke-linecap="round" stroke-linejoin="round" />
<path d="M1248,192 C1262,192.5 1275,187 1286,182" fill="none" stroke="#e4e4ec" stroke-width="3" stroke-linecap="round"/>
<path d="M1249,189.5 C1262,190 1272,184 1280,180.5 C1288,177.5 1294,179 1297.5,185 L1300,191" fill="none" stroke="url(#g15)" stroke-width="3.3" stroke-linecap="round" stroke-linejoin="round" />
<path d="M1301,205 C1299,213 1292,219 1282,222 C1272,224.5 1263,221 1254,217.5 C1246,214.5 1237,214 1231,219 C1224,226 1219,240 1217,256" fill="none" stroke="url(#g16)" stroke-width="3.3" stroke-linecap="round" stroke-linejoin="round" />
<path d="M1215.8,268 C1216,300 1219,330 1223.9,351.5" fill="none" stroke="url(#g17)" stroke-width="3.3" stroke-linecap="round" stroke-linejoin="round" />
<path d="M1272.5,154 C1278,163 1286,168 1291,177" fill="none" stroke="url(#g14)" stroke-width="3.3" stroke-linecap="round" stroke-linejoin="round" />
<path d="M1274,210 C1282,208 1290,213 1296,222 C1300,229 1303,238 1305,244" fill="none" stroke="url(#g14)" stroke-width="3.3" stroke-linecap="round" stroke-linejoin="round" />
<path d="M1255.1,138.4 L1251,146" fill="none" stroke="#e9549f" stroke-width="3.4" stroke-linecap="round" stroke-linejoin="round" />
<path d="M1264.1,136.4 L1268,142" fill="none" stroke="#7db23a" stroke-width="3.4" stroke-linecap="round" stroke-linejoin="round" />
<path d="M1241,22.6 Q1251,75 1255.0,127.4" fill="none" stroke="#86c440" stroke-width="3.4" stroke-linecap="round" stroke-linejoin="round" />
<path d="M1254.5,20.5 Q1256,78 1258.1,127.4" fill="none" stroke="#e9549f" stroke-width="3.4" stroke-linecap="round" stroke-linejoin="round" />
<path d="M1262.6,22.6 Q1262.4,78 1261.2,127.4" fill="none" stroke="#e7352c" stroke-width="3.4" stroke-linecap="round" stroke-linejoin="round" />
<path d="M1275.5,21.4 Q1268,72 1264.4,127.4" fill="none" stroke="#1f5f92" stroke-width="3.4" stroke-linecap="round" stroke-linejoin="round" />
<line x1="1256.0" y1="141.0" x2="1263.0" y2="141.4" stroke="#e7352c" stroke-width="5.20" stroke-linecap="round"/>
<line x1="1252.2" y1="136.8" x2="1257.1" y2="137.4" stroke="#e9549f" stroke-width="5.00" stroke-linecap="round"/>
<line x1="1253.6" y1="131.0" x2="1266.2" y2="137.4" stroke="#5f7fcf" stroke-width="5.40" stroke-linecap="round"/>
<line x1="1254.0" y1="130.5" x2="1265.8" y2="136.8" stroke="#7f9bdd" stroke-width="2.40" stroke-linecap="round"/>
<line x1="1254.2" y1="124.0" x2="1266.4" y2="131.6" stroke="#79b030" stroke-width="5.60" stroke-linecap="round"/>
<line x1="1254.4" y1="123.4" x2="1266.2" y2="130.8" stroke="#9fce45" stroke-width="3.00" stroke-linecap="round"/>
<circle cx="1250.0" cy="151.6" r="7.10" fill="#ef7a3c" stroke="#e2602a" stroke-width="0.8"/>
<ellipse cx="1249.1" cy="152.3" rx="4.12" ry="3.75" fill="#f6a777" opacity="0.45"/>
<circle cx="1269.5" cy="147.5" r="7.10" fill="#58b8ea" stroke="#3b9dd6" stroke-width="0.8"/>
<ellipse cx="1268.6" cy="148.2" rx="4.12" ry="3.75" fill="#9bd6f5" opacity="0.45"/>
<circle cx="1224.3" cy="194.4" r="7.10" fill="#e8488f" stroke="#d62f7a" stroke-width="0.8"/>
<ellipse cx="1223.4" cy="195.2" rx="4.12" ry="3.75" fill="#f38bb8" opacity="0.45"/>
<circle cx="1302.4" cy="198.4" r="7.10" fill="#8dc84c" stroke="#72b136" stroke-width="0.8"/>
<ellipse cx="1301.5" cy="199.2" rx="4.12" ry="3.75" fill="#b9e08a" opacity="0.45"/>
<circle cx="1306.4" cy="250.0" r="7.10" fill="#ef7a3c" stroke="#e2602a" stroke-width="0.8"/>
<ellipse cx="1305.5" cy="250.8" rx="4.12" ry="3.75" fill="#f6a777" opacity="0.45"/>
<circle cx="1216.0" cy="262.0" r="7.10" fill="#58b8ea" stroke="#3b9dd6" stroke-width="0.8"/>
<ellipse cx="1215.1" cy="262.8" rx="4.12" ry="3.75" fill="#9bd6f5" opacity="0.45"/>
<path d="M1235,168 C1233,178 1235,187 1240.8,192.8" fill="none" stroke="#7b2f4d" stroke-width="1.1"/>
<path d="M1236.6,192.6 L1241.2,193.2 L1241.2,188.6" fill="none" stroke="#7b2f4d" stroke-width="1.1"/>
<path d="M1296,176 C1298,184 1296,190 1290,194.2" fill="none" stroke="#7b2f4d" stroke-width="1.1"/>
<path d="M1290.4,189.8 L1289.6,194.6 L1294.4,194.6" fill="none" stroke="#7b2f4d" stroke-width="1.1"/>
<path d="M1222,212 C1223,220 1227,225.5 1233.4,227.8" fill="none" stroke="#7b2f4d" stroke-width="1.1"/>
<path d="M1229.4,229.6 L1233.9,228 L1231.6,223.8" fill="none" stroke="#7b2f4d" stroke-width="1.1"/>
<path d="M1304.4,210 C1303,219 1296,226 1286.4,228.4" fill="none" stroke="#7b2f4d" stroke-width="1.1"/>
<path d="M1289.4,224.6 L1285.8,228.6 L1290.4,231" fill="none" stroke="#7b2f4d" stroke-width="1.1"/>
<path d="M1195,506 Q1183,492 1167.3,480.3" fill="none" stroke="#e9549f" stroke-width="1.6" stroke-linecap="round" stroke-linejoin="round" />
<path d="M1195,506 Q1186,491 1173,478" fill="none" stroke="#86c440" stroke-width="1.6" stroke-linecap="round" stroke-linejoin="round" />
<path d="M1195,506 Q1191,489 1180,475.4" fill="none" stroke="#1f5f92" stroke-width="1.6" stroke-linecap="round" stroke-linejoin="round" />
<path d="M1195,506 Q1181,500 1168.7,488.7" fill="none" stroke="#e7352c" stroke-width="1.6" stroke-linecap="round" stroke-linejoin="round" />
<path d="M1196,508.2 Q1212,497.2 1232,492.96" fill="none" stroke="#86c440" stroke-width="1.3" stroke-linecap="round" stroke-linejoin="round" />
<path d="M1196,507.2 Q1212,496.2 1232,492.16" fill="none" stroke="#e7352c" stroke-width="1.8" stroke-linecap="round" stroke-linejoin="round" />
<path d="M1196,506.0 Q1212,495.0 1232,491.2" fill="none" stroke="#1f5f92" stroke-width="1.3" stroke-linecap="round" stroke-linejoin="round" />
<path d="M1195.3,506.3 Q1165.3,524.3 1148.2,550.6" fill="none" stroke="#86c440" stroke-width="1.6" stroke-linecap="round" stroke-linejoin="round" />
<path d="M1195.8,506.8 Q1166.4,525.4 1149.1,551.5" fill="none" stroke="#e9549f" stroke-width="1.6" stroke-linecap="round" stroke-linejoin="round" />
<path d="M1196.2,507.2 Q1167.6,526.6 1149.9,552.5" fill="none" stroke="#1f5f92" stroke-width="1.6" stroke-linecap="round" stroke-linejoin="round" />
<path d="M1196.7,507.7 Q1168.7,527.7 1150.8,553.4" fill="none" stroke="#e7352c" stroke-width="1.6" stroke-linecap="round" stroke-linejoin="round" />
<path d="M1233.0,492.5 L1233.8,492.3 L1234.6,492.1 L1235.6,491.8 L1236.7,491.5 L1237.8,491.2 L1239.1,490.9 L1240.4,490.5 L1241.8,490.2 L1243.2,489.8 L1244.7,489.4 L1246.3,489.0 L1247.8,488.6 L1249.4,488.2 L1251.1,487.8 L1252.7,487.4 L1254.3,487.0 L1256.0,486.7 L1257.6,486.4 L1259.2,486.1 L1260.8,485.8 L1262.4,485.5 L1264.0,485.3 L1265.7,485.0 L1267.3,484.7 L1269.1,484.5 L1270.8,484.2 L1272.6,484.0 L1274.4,483.8 L1276.2,483.5 L1278.0,483.3 L1279.8,483.1 L1281.6,482.9 L1283.4,482.8 L1285.2,482.6 L1286.9,482.4 L1288.7,482.3 L1290.4,482.2 L1292.1,482.1 L1293.8,482.1 L1295.4,482.0 L1297.1,482.0 L1298.7,482.0 L1300.2,482.0 L1301.8,482.0 L1303.4,482.1 L1305.0,482.1 L1306.5,482.2 L1308.1,482.2 L1309.6,482.3 L1311.1,482.5 L1312.6,482.6 L1314.1,482.7 L1315.6,482.9 L1317.0,483.1 L1318.5,483.3 L1319.9,483.6 L1321.3,483.8 L1322.7,484.1 L1324.1,484.5 L1325.5,484.8 L1326.9,485.2 L1328.2,485.6 L1329.6,486.0 L1330.9,486.5 L1332.2,487.0 L1333.5,487.5 L1334.8,488.0 L1336.1,488.5 L1337.4,489.1 L1338.6,489.7 L1339.9,490.3 L1341.1,491.0 L1342.3,491.6 L1343.5,492.3 L1344.7,493.0 L1345.8,493.7 L1347.0,494.5 L1348.1,495.2 L1349.2,496.0 L1350.3,496.8 L1351.3,497.6 L1352.4,498.5 L1353.4,499.4 L1354.5,500.3 L1355.5,501.2 L1356.5,502.2 L1357.4,503.2 L1358.4,504.2 L1359.3,505.2 L1360.3,506.3 L1361.2,507.3 L1362.1,508.4 L1362.9,509.5 L1363.8,510.6 L1364.6,511.7 L1365.4,512.8 L1366.2,513.9 L1366.9,515.0 L1367.7,516.2 L1368.4,517.3 L1369.0,518.4 L1369.7,519.6 L1370.3,520.8 L1371.0,522.0 L1371.6,523.2 L1372.2,524.4 L1372.7,525.6 L1373.3,526.8 L1373.8,528.1 L1374.3,529.3 L1374.7,530.6 L1375.2,531.9 L1375.6,533.1 L1376.0,534.4 L1376.4,535.6 L1376.7,536.9 L1377.1,538.1 L1377.4,539.4 L1377.6,540.6 L1377.9,541.8 L1378.1,543.0 L1378.3,544.2 L1378.5,545.4 L1378.6,546.6 L1378.7,547.8 L1378.8,549.0 L1378.9,550.2 L1378.9,551.4 L1379.0,552.6 L1379.0,553.8 L1378.9,555.0 L1378.9,556.2 L1378.8,557.3 L1378.7,558.5 L1378.6,559.7 L1378.5,560.9 L1378.3,562.1 L1378.1,563.3 L1377.9,564.6 L1377.7,565.8 L1377.4,567.0 L1377.2,568.2 L1376.9,569.5 L1376.6,570.7 L1376.3,571.9 L1376.0,573.2 L1375.6,574.4 L1375.2,575.7 L1374.8,576.9 L1374.4,578.2 L1373.9,579.4 L1373.4,580.7 L1372.9,581.9 L1372.4,583.2 L1371.8,584.4 L1371.2,585.7 L1370.5,586.9 L1369.8,588.2 L1369.1,589.4 L1368.4,590.7 L1367.6,591.9 L1366.7,593.2 L1365.8,594.5 L1364.9,595.7 L1363.9,597.0 L1362.9,598.3 L1361.8,599.6 L1360.7,600.8 L1359.6,602.1 L1358.5,603.4 L1357.3,604.6 L1356.2,605.9 L1355.0,607.2 L1353.8,608.4 L1352.6,609.6 L1351.3,610.9 L1350.1,612.1 L1348.9,613.3 L1347.7,614.4 L1346.5,615.6 L1345.2,616.7 L1344.0,617.9 L1342.8,619.0 L1341.5,620.1 L1340.2,621.3 L1338.9,622.4 L1337.6,623.5 L1336.3,624.5 L1335.0,625.6 L1333.7,626.7 L1332.3,627.8 L1331.0,628.8 L1329.6,629.8 L1328.2,630.9 L1326.9,631.9 L1325.5,632.8 L1324.1,633.8 L1322.6,634.8 L1321.2,635.7 L1319.8,636.7 L1318.4,637.6 L1316.9,638.5 L1315.4,639.3 L1314.0,640.2 L1312.5,641.0 L1310.9,641.9 L1309.4,642.7 L1307.9,643.5 L1306.4,644.3 L1304.8,645.0 L1303.3,645.8 L1301.7,646.6 L1300.2,647.3 L1298.6,648.1 L1297.0,648.8 L1295.5,649.5 L1294.0,650.3 L1292.4,651.0 L1290.9,651.7 L1289.3,652.5 L1287.8,653.2 L1286.3,653.9 L1284.8,654.7 L1283.3,655.4 L1281.7,656.1 L1280.2,656.8 L1278.7,657.5 L1277.2,658.2 L1275.6,658.9 L1274.1,659.6 L1272.6,660.2 L1271.1,660.9 L1269.5,661.6 L1268.0,662.2 L1266.5,662.9 L1265.0,663.5 L1263.5,664.1 L1261.9,664.8 L1260.4,665.4 L1258.9,666.0 L1257.4,666.6 L1255.8,667.2 L1254.3,667.8 L1252.8,668.4 L1251.2,669.0 L1249.7,669.6 L1248.1,670.2 L1246.6,670.8 L1245.1,671.3 L1243.5,671.9 L1242.0,672.4 L1240.5,673.0 L1238.9,673.5 L1237.4,674.0 L1235.9,674.4 L1234.4,674.9 L1232.9,675.3 L1231.4,675.7 L1229.9,676.1 L1228.4,676.4 L1226.9,676.7 L1225.5,677.0 L1224.0,677.3 L1222.6,677.6 L1221.2,677.9 L1219.7,678.1 L1218.3,678.3 L1216.9,678.5 L1215.5,678.7 L1214.1,678.9 L1212.7,679.0 L1211.3,679.1 L1209.8,679.2 L1208.4,679.2 L1207.0,679.2 L1205.6,679.2 L1204.2,679.2 L1202.7,679.1 L1201.3,679.0 L1199.9,678.8 L1198.4,678.6 L1196.9,678.4 L1195.4,678.1 L1193.9,677.8 L1192.4,677.5 L1190.9,677.1 L1189.4,676.7 L1187.8,676.3 L1186.3,675.9 L1184.8,675.4 L1183.3,674.9 L1181.8,674.3 L1180.3,673.8 L1178.8,673.2 L1177.3,672.6 L1175.9,672.0 L1174.5,671.3 L1173.1,670.6 L1171.7,669.9 L1170.3,669.2 L1169.0,668.5 L1167.7,667.7 L1166.4,667.0 L1165.1,666.2 L1163.8,665.3 L1162.5,664.5 L1161.2,663.6 L1159.9,662.7 L1158.7,661.7 L1157.5,660.8 L1156.3,659.8 L1155.1,658.8 L1153.9,657.8 L1152.8,656.8 L1151.7,655.7 L1150.6,654.6 L1149.5,653.5 L1148.5,652.4 L1147.5,651.2 L1146.5,650.1 L1145.6,648.9 L1144.7,647.6 L1143.8,646.4 L1143.0,645.1 L1142.1,643.7 L1141.3,642.3 L1140.5,641.0 L1139.8,639.5 L1139.0,638.1 L1138.3,636.7 L1137.7,635.2 L1137.0,633.8 L1136.4,632.3 L1135.8,630.8 L1135.2,629.4 L1134.6,627.9 L1134.1,626.5 L1133.6,625.1 L1133.2,623.7 L1132.7,622.3 L1132.3,620.9 L1132.0,619.6 L1131.6,618.2 L1131.3,616.8 L1131.0,615.5 L1130.7,614.1 L1130.5,612.7 L1130.3,611.4 L1130.1,610.0 L1129.9,608.6 L1129.8,607.3 L1129.7,605.9 L1129.6,604.6 L1129.6,603.3 L1129.6,602.0 L1129.6,600.6 L1129.6,599.3 L1129.7,598.0 L1129.8,596.7 L1129.9,595.5 L1130.0,594.2 L1130.2,592.9 L1130.5,591.7 L1130.8,590.4 L1131.1,589.1 L1131.4,587.9 L1131.8,586.6 L1132.2,585.4 L1132.7,584.1 L1133.1,582.9 L1133.6,581.7 L1134.1,580.5 L1134.6,579.3 L1135.1,578.1 L1135.6,577.0 L1136.1,575.8 L1136.6,574.7 L1137.0,573.6 L1137.5,572.6 L1138.0,571.5 L1138.4,570.5 L1138.9,569.5 L1139.5,568.4 L1140.0,567.4 L1140.6,566.4 L1141.2,565.3 L1141.7,564.3 L1142.3,563.4 L1142.9,562.4 L1143.5,561.5 L1144.1,560.6 L1144.6,559.7 L1145.2,558.9 L1145.7,558.1 L1146.2,557.3 L1146.6,556.6 L1147.0,556.0 L1147.4,555.4 L1147.7,554.9 L1148.0,554.4" fill="none" stroke="#e7352c" stroke-width="5.2" stroke-linecap="round"/>
<path d="M1233.0,492.5 L1233.8,492.3 L1234.6,492.1 L1235.6,491.8 L1236.7,491.5 L1237.8,491.2 L1239.1,490.9 L1240.4,490.5 L1241.8,490.2 L1243.2,489.8 L1244.7,489.4 L1246.3,489.0 L1247.8,488.6 L1249.4,488.2 L1251.1,487.8 L1252.7,487.4 L1254.3,487.0 L1256.0,486.7 L1257.6,486.4 L1259.2,486.1 L1260.8,485.8 L1262.4,485.5 L1264.0,485.3 L1265.7,485.0 L1267.3,484.7 L1269.1,484.5 L1270.8,484.2 L1272.6,484.0 L1274.4,483.8 L1276.2,483.5 L1278.0,483.3 L1279.8,483.1 L1281.6,482.9 L1283.4,482.8 L1285.2,482.6 L1286.9,482.4 L1288.7,482.3 L1290.4,482.2 L1292.1,482.1 L1293.8,482.1 L1295.4,482.0 L1297.1,482.0 L1298.7,482.0 L1300.2,482.0 L1301.8,482.0 L1303.4,482.1 L1305.0,482.1 L1306.5,482.2 L1308.1,482.2 L1309.6,482.3 L1311.1,482.5 L1312.6,482.6 L1314.1,482.7 L1315.6,482.9 L1317.0,483.1 L1318.5,483.3 L1319.9,483.6 L1321.3,483.8 L1322.7,484.1 L1324.1,484.5 L1325.5,484.8 L1326.9,485.2 L1328.2,485.6 L1329.6,486.0 L1330.9,486.5 L1332.2,487.0 L1333.5,487.5 L1334.8,488.0 L1336.1,488.5 L1337.4,489.1 L1338.6,489.7 L1339.9,490.3 L1341.1,491.0 L1342.3,491.6 L1343.5,492.3 L1344.7,493.0 L1345.8,493.7 L1347.0,494.5 L1348.1,495.2 L1349.2,496.0 L1350.3,496.8 L1351.3,497.6 L1352.4,498.5 L1353.4,499.4 L1354.5,500.3 L1355.5,501.2 L1356.5,502.2 L1357.4,503.2 L1358.4,504.2 L1359.3,505.2 L1360.3,506.3 L1361.2,507.3 L1362.1,508.4 L1362.9,509.5 L1363.8,510.6 L1364.6,511.7 L1365.4,512.8 L1366.2,513.9 L1366.9,515.0 L1367.7,516.2 L1368.4,517.3 L1369.0,518.4 L1369.7,519.6 L1370.3,520.8 L1371.0,522.0 L1371.6,523.2 L1372.2,524.4 L1372.7,525.6 L1373.3,526.8 L1373.8,528.1 L1374.3,529.3 L1374.7,530.6 L1375.2,531.9 L1375.6,533.1 L1376.0,534.4 L1376.4,535.6 L1376.7,536.9 L1377.1,538.1 L1377.4,539.4 L1377.6,540.6 L1377.9,541.8 L1378.1,543.0 L1378.3,544.2 L1378.5,545.4 L1378.6,546.6 L1378.7,547.8 L1378.8,549.0 L1378.9,550.2 L1378.9,551.4 L1379.0,552.6 L1379.0,553.8 L1378.9,555.0 L1378.9,556.2 L1378.8,557.3 L1378.7,558.5 L1378.6,559.7 L1378.5,560.9 L1378.3,562.1 L1378.1,563.3 L1377.9,564.6 L1377.7,565.8 L1377.4,567.0 L1377.2,568.2 L1376.9,569.5 L1376.6,570.7 L1376.3,571.9 L1376.0,573.2 L1375.6,574.4 L1375.2,575.7 L1374.8,576.9 L1374.4,578.2 L1373.9,579.4 L1373.4,580.7 L1372.9,581.9 L1372.4,583.2 L1371.8,584.4 L1371.2,585.7 L1370.5,586.9 L1369.8,588.2 L1369.1,589.4 L1368.4,590.7 L1367.6,591.9 L1366.7,593.2 L1365.8,594.5 L1364.9,595.7 L1363.9,597.0 L1362.9,598.3 L1361.8,599.6 L1360.7,600.8 L1359.6,602.1 L1358.5,603.4 L1357.3,604.6 L1356.2,605.9 L1355.0,607.2 L1353.8,608.4 L1352.6,609.6 L1351.3,610.9 L1350.1,612.1 L1348.9,613.3 L1347.7,614.4 L1346.5,615.6 L1345.2,616.7 L1344.0,617.9 L1342.8,619.0 L1341.5,620.1 L1340.2,621.3 L1338.9,622.4 L1337.6,623.5 L1336.3,624.5 L1335.0,625.6 L1333.7,626.7 L1332.3,627.8 L1331.0,628.8 L1329.6,629.8 L1328.2,630.9 L1326.9,631.9 L1325.5,632.8 L1324.1,633.8 L1322.6,634.8 L1321.2,635.7 L1319.8,636.7 L1318.4,637.6 L1316.9,638.5 L1315.4,639.3 L1314.0,640.2 L1312.5,641.0 L1310.9,641.9 L1309.4,642.7 L1307.9,643.5 L1306.4,644.3 L1304.8,645.0 L1303.3,645.8 L1301.7,646.6 L1300.2,647.3 L1298.6,648.1 L1297.0,648.8 L1295.5,649.5 L1294.0,650.3 L1292.4,651.0 L1290.9,651.7 L1289.3,652.5 L1287.8,653.2 L1286.3,653.9 L1284.8,654.7 L1283.3,655.4 L1281.7,656.1 L1280.2,656.8 L1278.7,657.5 L1277.2,658.2 L1275.6,658.9 L1274.1,659.6 L1272.6,660.2 L1271.1,660.9 L1269.5,661.6 L1268.0,662.2 L1266.5,662.9 L1265.0,663.5 L1263.5,664.1 L1261.9,664.8 L1260.4,665.4 L1258.9,666.0 L1257.4,666.6 L1255.8,667.2 L1254.3,667.8 L1252.8,668.4 L1251.2,669.0 L1249.7,669.6 L1248.1,670.2 L1246.6,670.8 L1245.1,671.3 L1243.5,671.9 L1242.0,672.4 L1240.5,673.0 L1238.9,673.5 L1237.4,674.0 L1235.9,674.4 L1234.4,674.9 L1232.9,675.3 L1231.4,675.7 L1229.9,676.1 L1228.4,676.4 L1226.9,676.7 L1225.5,677.0 L1224.0,677.3 L1222.6,677.6 L1221.2,677.9 L1219.7,678.1 L1218.3,678.3 L1216.9,678.5 L1215.5,678.7 L1214.1,678.9 L1212.7,679.0 L1211.3,679.1 L1209.8,679.2 L1208.4,679.2 L1207.0,679.2 L1205.6,679.2 L1204.2,679.2 L1202.7,679.1 L1201.3,679.0 L1199.9,678.8 L1198.4,678.6 L1196.9,678.4 L1195.4,678.1 L1193.9,677.8 L1192.4,677.5 L1190.9,677.1 L1189.4,676.7 L1187.8,676.3 L1186.3,675.9 L1184.8,675.4 L1183.3,674.9 L1181.8,674.3 L1180.3,673.8 L1178.8,673.2 L1177.3,672.6 L1175.9,672.0 L1174.5,671.3 L1173.1,670.6 L1171.7,669.9 L1170.3,669.2 L1169.0,668.5 L1167.7,667.7 L1166.4,667.0 L1165.1,666.2 L1163.8,665.3 L1162.5,664.5 L1161.2,663.6 L1159.9,662.7 L1158.7,661.7 L1157.5,660.8 L1156.3,659.8 L1155.1,658.8 L1153.9,657.8 L1152.8,656.8 L1151.7,655.7 L1150.6,654.6 L1149.5,653.5 L1148.5,652.4 L1147.5,651.2 L1146.5,650.1 L1145.6,648.9 L1144.7,647.6 L1143.8,646.4 L1143.0,645.1 L1142.1,643.7 L1141.3,642.3 L1140.5,641.0 L1139.8,639.5 L1139.0,638.1 L1138.3,636.7 L1137.7,635.2 L1137.0,633.8 L1136.4,632.3 L1135.8,630.8 L1135.2,629.4 L1134.6,627.9 L1134.1,626.5 L1133.6,625.1 L1133.2,623.7 L1132.7,622.3 L1132.3,620.9 L1132.0,619.6 L1131.6,618.2 L1131.3,616.8 L1131.0,615.5 L1130.7,614.1 L1130.5,612.7 L1130.3,611.4 L1130.1,610.0 L1129.9,608.6 L1129.8,607.3 L1129.7,605.9 L1129.6,604.6 L1129.6,603.3 L1129.6,602.0 L1129.6,600.6 L1129.6,599.3 L1129.7,598.0 L1129.8,596.7 L1129.9,595.5 L1130.0,594.2 L1130.2,592.9 L1130.5,591.7 L1130.8,590.4 L1131.1,589.1 L1131.4,587.9 L1131.8,586.6 L1132.2,585.4 L1132.7,584.1 L1133.1,582.9 L1133.6,581.7 L1134.1,580.5 L1134.6,579.3 L1135.1,578.1 L1135.6,577.0 L1136.1,575.8 L1136.6,574.7 L1137.0,573.6 L1137.5,572.6 L1138.0,571.5 L1138.4,570.5 L1138.9,569.5 L1139.5,568.4 L1140.0,567.4 L1140.6,566.4 L1141.2,565.3 L1141.7,564.3 L1142.3,563.4 L1142.9,562.4 L1143.5,561.5 L1144.1,560.6 L1144.6,559.7 L1145.2,558.9 L1145.7,558.1 L1146.2,557.3 L1146.6,556.6 L1147.0,556.0 L1147.4,555.4 L1147.7,554.9 L1148.0,554.4" fill="none" stroke="#6d3fa2" stroke-width="4.0" stroke-linecap="round"/>
<path d="M1233.0,492.5 L1233.8,492.3 L1234.6,492.1 L1235.6,491.8 L1236.7,491.5 L1237.8,491.2 L1239.1,490.9 L1240.4,490.5 L1241.8,490.2 L1243.2,489.8 L1244.7,489.4 L1246.3,489.0 L1247.8,488.6 L1249.4,488.2 L1251.1,487.8 L1252.7,487.4 L1254.3,487.0 L1256.0,486.7 L1257.6,486.4 L1259.2,486.1 L1260.8,485.8 L1262.4,485.5 L1264.0,485.3 L1265.7,485.0 L1267.3,484.7 L1269.1,484.5 L1270.8,484.2 L1272.6,484.0 L1274.4,483.8 L1276.2,483.5 L1278.0,483.3 L1279.8,483.1 L1281.6,482.9 L1283.4,482.8 L1285.2,482.6 L1286.9,482.4 L1288.7,482.3 L1290.4,482.2 L1292.1,482.1 L1293.8,482.1 L1295.4,482.0 L1297.1,482.0 L1298.7,482.0 L1300.2,482.0 L1301.8,482.0 L1303.4,482.1 L1305.0,482.1 L1306.5,482.2 L1308.1,482.2 L1309.6,482.3 L1311.1,482.5 L1312.6,482.6 L1314.1,482.7 L1315.6,482.9 L1317.0,483.1 L1318.5,483.3 L1319.9,483.6 L1321.3,483.8 L1322.7,484.1 L1324.1,484.5 L1325.5,484.8 L1326.9,485.2 L1328.2,485.6 L1329.6,486.0 L1330.9,486.5 L1332.2,487.0 L1333.5,487.5 L1334.8,488.0 L1336.1,488.5 L1337.4,489.1 L1338.6,489.7 L1339.9,490.3 L1341.1,491.0 L1342.3,491.6 L1343.5,492.3 L1344.7,493.0 L1345.8,493.7 L1347.0,494.5 L1348.1,495.2 L1349.2,496.0 L1350.3,496.8 L1351.3,497.6 L1352.4,498.5 L1353.4,499.4 L1354.5,500.3 L1355.5,501.2 L1356.5,502.2 L1357.4,503.2 L1358.4,504.2 L1359.3,505.2 L1360.3,506.3 L1361.2,507.3 L1362.1,508.4 L1362.9,509.5 L1363.8,510.6 L1364.6,511.7 L1365.4,512.8 L1366.2,513.9 L1366.9,515.0 L1367.7,516.2 L1368.4,517.3 L1369.0,518.4 L1369.7,519.6 L1370.3,520.8 L1371.0,522.0 L1371.6,523.2 L1372.2,524.4 L1372.7,525.6 L1373.3,526.8 L1373.8,528.1 L1374.3,529.3 L1374.7,530.6 L1375.2,531.9 L1375.6,533.1 L1376.0,534.4 L1376.4,535.6 L1376.7,536.9 L1377.1,538.1 L1377.4,539.4 L1377.6,540.6 L1377.9,541.8 L1378.1,543.0 L1378.3,544.2 L1378.5,545.4 L1378.6,546.6 L1378.7,547.8 L1378.8,549.0 L1378.9,550.2 L1378.9,551.4 L1379.0,552.6 L1379.0,553.8 L1378.9,555.0 L1378.9,556.2 L1378.8,557.3 L1378.7,558.5 L1378.6,559.7 L1378.5,560.9 L1378.3,562.1 L1378.1,563.3 L1377.9,564.6 L1377.7,565.8 L1377.4,567.0 L1377.2,568.2 L1376.9,569.5 L1376.6,570.7 L1376.3,571.9 L1376.0,573.2 L1375.6,574.4 L1375.2,575.7 L1374.8,576.9 L1374.4,578.2 L1373.9,579.4 L1373.4,580.7 L1372.9,581.9 L1372.4,583.2 L1371.8,584.4 L1371.2,585.7 L1370.5,586.9 L1369.8,588.2 L1369.1,589.4 L1368.4,590.7 L1367.6,591.9 L1366.7,593.2 L1365.8,594.5 L1364.9,595.7 L1363.9,597.0 L1362.9,598.3 L1361.8,599.6 L1360.7,600.8 L1359.6,602.1 L1358.5,603.4 L1357.3,604.6 L1356.2,605.9 L1355.0,607.2 L1353.8,608.4 L1352.6,609.6 L1351.3,610.9 L1350.1,612.1 L1348.9,613.3 L1347.7,614.4 L1346.5,615.6 L1345.2,616.7 L1344.0,617.9 L1342.8,619.0 L1341.5,620.1 L1340.2,621.3 L1338.9,622.4 L1337.6,623.5 L1336.3,624.5 L1335.0,625.6 L1333.7,626.7 L1332.3,627.8 L1331.0,628.8 L1329.6,629.8 L1328.2,630.9 L1326.9,631.9 L1325.5,632.8 L1324.1,633.8 L1322.6,634.8 L1321.2,635.7 L1319.8,636.7 L1318.4,637.6 L1316.9,638.5 L1315.4,639.3 L1314.0,640.2 L1312.5,641.0 L1310.9,641.9 L1309.4,642.7 L1307.9,643.5 L1306.4,644.3 L1304.8,645.0 L1303.3,645.8 L1301.7,646.6 L1300.2,647.3 L1298.6,648.1 L1297.0,648.8 L1295.5,649.5 L1294.0,650.3 L1292.4,651.0 L1290.9,651.7 L1289.3,652.5 L1287.8,653.2 L1286.3,653.9 L1284.8,654.7 L1283.3,655.4 L1281.7,656.1 L1280.2,656.8 L1278.7,657.5 L1277.2,658.2 L1275.6,658.9 L1274.1,659.6 L1272.6,660.2 L1271.1,660.9 L1269.5,661.6 L1268.0,662.2 L1266.5,662.9 L1265.0,663.5 L1263.5,664.1 L1261.9,664.8 L1260.4,665.4 L1258.9,666.0 L1257.4,666.6 L1255.8,667.2 L1254.3,667.8 L1252.8,668.4 L1251.2,669.0 L1249.7,669.6 L1248.1,670.2 L1246.6,670.8 L1245.1,671.3 L1243.5,671.9 L1242.0,672.4 L1240.5,673.0 L1238.9,673.5 L1237.4,674.0 L1235.9,674.4 L1234.4,674.9 L1232.9,675.3 L1231.4,675.7 L1229.9,676.1 L1228.4,676.4 L1226.9,676.7 L1225.5,677.0 L1224.0,677.3 L1222.6,677.6 L1221.2,677.9 L1219.7,678.1 L1218.3,678.3 L1216.9,678.5 L1215.5,678.7 L1214.1,678.9 L1212.7,679.0 L1211.3,679.1 L1209.8,679.2 L1208.4,679.2 L1207.0,679.2 L1205.6,679.2 L1204.2,679.2 L1202.7,679.1 L1201.3,679.0 L1199.9,678.8 L1198.4,678.6 L1196.9,678.4 L1195.4,678.1 L1193.9,677.8 L1192.4,677.5 L1190.9,677.1 L1189.4,676.7 L1187.8,676.3 L1186.3,675.9 L1184.8,675.4 L1183.3,674.9 L1181.8,674.3 L1180.3,673.8 L1178.8,673.2 L1177.3,672.6 L1175.9,672.0 L1174.5,671.3 L1173.1,670.6 L1171.7,669.9 L1170.3,669.2 L1169.0,668.5 L1167.7,667.7 L1166.4,667.0 L1165.1,666.2 L1163.8,665.3 L1162.5,664.5 L1161.2,663.6 L1159.9,662.7 L1158.7,661.7 L1157.5,660.8 L1156.3,659.8 L1155.1,658.8 L1153.9,657.8 L1152.8,656.8 L1151.7,655.7 L1150.6,654.6 L1149.5,653.5 L1148.5,652.4 L1147.5,651.2 L1146.5,650.1 L1145.6,648.9 L1144.7,647.6 L1143.8,646.4 L1143.0,645.1 L1142.1,643.7 L1141.3,642.3 L1140.5,641.0 L1139.8,639.5 L1139.0,638.1 L1138.3,636.7 L1137.7,635.2 L1137.0,633.8 L1136.4,632.3 L1135.8,630.8 L1135.2,629.4 L1134.6,627.9 L1134.1,626.5 L1133.6,625.1 L1133.2,623.7 L1132.7,622.3 L1132.3,620.9 L1132.0,619.6 L1131.6,618.2 L1131.3,616.8 L1131.0,615.5 L1130.7,614.1 L1130.5,612.7 L1130.3,611.4 L1130.1,610.0 L1129.9,608.6 L1129.8,607.3 L1129.7,605.9 L1129.6,604.6 L1129.6,603.3 L1129.6,602.0 L1129.6,600.6 L1129.6,599.3 L1129.7,598.0 L1129.8,596.7 L1129.9,595.5 L1130.0,594.2 L1130.2,592.9 L1130.5,591.7 L1130.8,590.4 L1131.1,589.1 L1131.4,587.9 L1131.8,586.6 L1132.2,585.4 L1132.7,584.1 L1133.1,582.9 L1133.6,581.7 L1134.1,580.5 L1134.6,579.3 L1135.1,578.1 L1135.6,577.0 L1136.1,575.8 L1136.6,574.7 L1137.0,573.6 L1137.5,572.6 L1138.0,571.5 L1138.4,570.5 L1138.9,569.5 L1139.5,568.4 L1140.0,567.4 L1140.6,566.4 L1141.2,565.3 L1141.7,564.3 L1142.3,563.4 L1142.9,562.4 L1143.5,561.5 L1144.1,560.6 L1144.6,559.7 L1145.2,558.9 L1145.7,558.1 L1146.2,557.3 L1146.6,556.6 L1147.0,556.0 L1147.4,555.4 L1147.7,554.9 L1148.0,554.4" fill="none" stroke="#f4f4fb" stroke-width="1.6" stroke-linecap="round"/>
<path d="M1233.0,492.5 L1233.8,492.3 L1234.6,492.1 L1235.6,491.8 L1236.7,491.5 L1237.8,491.2 L1239.1,490.9 L1240.4,490.5 L1241.8,490.2 L1243.2,489.8 L1244.7,489.4 L1246.3,489.0 L1247.8,488.6 L1249.4,488.2 L1251.1,487.8 L1252.7,487.4 L1254.3,487.0 L1256.0,486.7 L1257.6,486.4 L1259.2,486.1 L1260.8,485.8 L1262.4,485.5 L1264.0,485.3 L1265.7,485.0 L1267.3,484.7 L1269.1,484.5 L1270.8,484.2 L1272.6,484.0 L1274.4,483.8 L1276.2,483.5 L1278.0,483.3 L1279.8,483.1 L1281.6,482.9 L1283.4,482.8 L1285.2,482.6 L1286.9,482.4 L1288.7,482.3 L1290.4,482.2 L1292.1,482.1 L1293.8,482.1 L1295.4,482.0 L1297.1,482.0 L1298.7,482.0 L1300.2,482.0 L1301.8,482.0 L1303.4,482.1 L1305.0,482.1 L1306.5,482.2 L1308.1,482.2 L1309.6,482.3 L1311.1,482.5 L1312.6,482.6 L1314.1,482.7 L1315.6,482.9 L1317.0,483.1 L1318.5,483.3 L1319.9,483.6 L1321.3,483.8 L1322.7,484.1 L1324.1,484.5 L1325.5,484.8 L1326.9,485.2 L1328.2,485.6 L1329.6,486.0 L1330.9,486.5 L1332.2,487.0 L1333.5,487.5 L1334.8,488.0 L1336.1,488.5 L1337.4,489.1 L1338.6,489.7 L1339.9,490.3 L1341.1,491.0 L1342.3,491.6 L1343.5,492.3 L1344.7,493.0 L1345.8,493.7 L1347.0,494.5 L1348.1,495.2 L1349.2,496.0 L1350.3,496.8 L1351.3,497.6 L1352.4,498.5 L1353.4,499.4 L1354.5,500.3 L1355.5,501.2 L1356.5,502.2 L1357.4,503.2 L1358.4,504.2 L1359.3,505.2 L1360.3,506.3 L1361.2,507.3 L1362.1,508.4 L1362.9,509.5 L1363.8,510.6 L1364.6,511.7 L1365.4,512.8 L1366.2,513.9 L1366.9,515.0 L1367.7,516.2 L1368.4,517.3 L1369.0,518.4 L1369.7,519.6 L1370.3,520.8 L1371.0,522.0 L1371.6,523.2 L1372.2,524.4 L1372.7,525.6 L1373.3,526.8 L1373.8,528.1 L1374.3,529.3 L1374.7,530.6 L1375.2,531.9 L1375.6,533.1 L1376.0,534.4 L1376.4,535.6 L1376.7,536.9 L1377.1,538.1 L1377.4,539.4 L1377.6,540.6 L1377.9,541.8 L1378.1,543.0 L1378.3,544.2 L1378.5,545.4 L1378.6,546.6 L1378.7,547.8 L1378.8,549.0 L1378.9,550.2 L1378.9,551.4 L1379.0,552.6 L1379.0,553.8 L1378.9,555.0 L1378.9,556.2 L1378.8,557.3 L1378.7,558.5 L1378.6,559.7 L1378.5,560.9 L1378.3,562.1 L1378.1,563.3 L1377.9,564.6 L1377.7,565.8 L1377.4,567.0 L1377.2,568.2 L1376.9,569.5 L1376.6,570.7 L1376.3,571.9 L1376.0,573.2 L1375.6,574.4 L1375.2,575.7 L1374.8,576.9 L1374.4,578.2 L1373.9,579.4 L1373.4,580.7 L1372.9,581.9 L1372.4,583.2 L1371.8,584.4 L1371.2,585.7 L1370.5,586.9 L1369.8,588.2 L1369.1,589.4 L1368.4,590.7 L1367.6,591.9 L1366.7,593.2 L1365.8,594.5 L1364.9,595.7 L1363.9,597.0 L1362.9,598.3 L1361.8,599.6 L1360.7,600.8 L1359.6,602.1 L1358.5,603.4 L1357.3,604.6 L1356.2,605.9 L1355.0,607.2 L1353.8,608.4 L1352.6,609.6 L1351.3,610.9 L1350.1,612.1 L1348.9,613.3 L1347.7,614.4 L1346.5,615.6 L1345.2,616.7 L1344.0,617.9 L1342.8,619.0 L1341.5,620.1 L1340.2,621.3 L1338.9,622.4 L1337.6,623.5 L1336.3,624.5 L1335.0,625.6 L1333.7,626.7 L1332.3,627.8 L1331.0,628.8 L1329.6,629.8 L1328.2,630.9 L1326.9,631.9 L1325.5,632.8 L1324.1,633.8 L1322.6,634.8 L1321.2,635.7 L1319.8,636.7 L1318.4,637.6 L1316.9,638.5 L1315.4,639.3 L1314.0,640.2 L1312.5,641.0 L1310.9,641.9 L1309.4,642.7 L1307.9,643.5 L1306.4,644.3 L1304.8,645.0 L1303.3,645.8 L1301.7,646.6 L1300.2,647.3 L1298.6,648.1 L1297.0,648.8 L1295.5,649.5 L1294.0,650.3 L1292.4,651.0 L1290.9,651.7 L1289.3,652.5 L1287.8,653.2 L1286.3,653.9 L1284.8,654.7 L1283.3,655.4 L1281.7,656.1 L1280.2,656.8 L1278.7,657.5 L1277.2,658.2 L1275.6,658.9 L1274.1,659.6 L1272.6,660.2 L1271.1,660.9 L1269.5,661.6 L1268.0,662.2 L1266.5,662.9 L1265.0,663.5 L1263.5,664.1 L1261.9,664.8 L1260.4,665.4 L1258.9,666.0 L1257.4,666.6 L1255.8,667.2 L1254.3,667.8 L1252.8,668.4 L1251.2,669.0 L1249.7,669.6 L1248.1,670.2 L1246.6,670.8 L1245.1,671.3 L1243.5,671.9 L1242.0,672.4 L1240.5,673.0 L1238.9,673.5 L1237.4,674.0 L1235.9,674.4 L1234.4,674.9 L1232.9,675.3 L1231.4,675.7 L1229.9,676.1 L1228.4,676.4 L1226.9,676.7 L1225.5,677.0 L1224.0,677.3 L1222.6,677.6 L1221.2,677.9 L1219.7,678.1 L1218.3,678.3 L1216.9,678.5 L1215.5,678.7 L1214.1,678.9 L1212.7,679.0 L1211.3,679.1 L1209.8,679.2 L1208.4,679.2 L1207.0,679.2 L1205.6,679.2 L1204.2,679.2 L1202.7,679.1 L1201.3,679.0 L1199.9,678.8 L1198.4,678.6 L1196.9,678.4 L1195.4,678.1 L1193.9,677.8 L1192.4,677.5 L1190.9,677.1 L1189.4,676.7 L1187.8,676.3 L1186.3,675.9 L1184.8,675.4 L1183.3,674.9 L1181.8,674.3 L1180.3,673.8 L1178.8,673.2 L1177.3,672.6 L1175.9,672.0 L1174.5,671.3 L1173.1,670.6 L1171.7,669.9 L1170.3,669.2 L1169.0,668.5 L1167.7,667.7 L1166.4,667.0 L1165.1,666.2 L1163.8,665.3 L1162.5,664.5 L1161.2,663.6 L1159.9,662.7 L1158.7,661.7 L1157.5,660.8 L1156.3,659.8 L1155.1,658.8 L1153.9,657.8 L1152.8,656.8 L1151.7,655.7 L1150.6,654.6 L1149.5,653.5 L1148.5,652.4 L1147.5,651.2 L1146.5,650.1 L1145.6,648.9 L1144.7,647.6 L1143.8,646.4 L1143.0,645.1 L1142.1,643.7 L1141.3,642.3 L1140.5,641.0 L1139.8,639.5 L1139.0,638.1 L1138.3,636.7 L1137.7,635.2 L1137.0,633.8 L1136.4,632.3 L1135.8,630.8 L1135.2,629.4 L1134.6,627.9 L1134.1,626.5 L1133.6,625.1 L1133.2,623.7 L1132.7,622.3 L1132.3,620.9 L1132.0,619.6 L1131.6,618.2 L1131.3,616.8 L1131.0,615.5 L1130.7,614.1 L1130.5,612.7 L1130.3,611.4 L1130.1,610.0 L1129.9,608.6 L1129.8,607.3 L1129.7,605.9 L1129.6,604.6 L1129.6,603.3 L1129.6,602.0 L1129.6,600.6 L1129.6,599.3 L1129.7,598.0 L1129.8,596.7 L1129.9,595.5 L1130.0,594.2 L1130.2,592.9 L1130.5,591.7 L1130.8,590.4 L1131.1,589.1 L1131.4,587.9 L1131.8,586.6 L1132.2,585.4 L1132.7,584.1 L1133.1,582.9 L1133.6,581.7 L1134.1,580.5 L1134.6,579.3 L1135.1,578.1 L1135.6,577.0 L1136.1,575.8 L1136.6,574.7 L1137.0,573.6 L1137.5,572.6 L1138.0,571.5 L1138.4,570.5 L1138.9,569.5 L1139.5,568.4 L1140.0,567.4 L1140.6,566.4 L1141.2,565.3 L1141.7,564.3 L1142.3,563.4 L1142.9,562.4 L1143.5,561.5 L1144.1,560.6 L1144.6,559.7 L1145.2,558.9 L1145.7,558.1 L1146.2,557.3 L1146.6,556.6 L1147.0,556.0 L1147.4,555.4 L1147.7,554.9 L1148.0,554.4" fill="none" stroke="#5a7fd0" stroke-width="0.8" stroke-linecap="round" transform="translate(0.8,0.8)"/>
<path d="M1253.0,481.2 Q1250.0,487.6 1254.9,492.6" fill="none" stroke="#5ab5e8" stroke-width="2.0" stroke-linecap="round" stroke-linejoin="round" />
<path d="M1267.4,478.8 Q1264.1,485.0 1268.8,490.3" fill="none" stroke="#f2c040" stroke-width="2.0" stroke-linecap="round" stroke-linejoin="round" />
<path d="M1282.0,476.9 Q1278.3,482.9 1282.7,488.5" fill="none" stroke="#9fce45" stroke-width="2.0" stroke-linecap="round" stroke-linejoin="round" />
<path d="M1296.8,476.1 Q1292.6,481.8 1296.5,487.7" fill="none" stroke="#8f7fd0" stroke-width="2.0" stroke-linecap="round" stroke-linejoin="round" />
<path d="M1311.9,476.5 Q1307.0,481.6 1310.1,487.9" fill="none" stroke="#5ab5e8" stroke-width="2.0" stroke-linecap="round" stroke-linejoin="round" />
<path d="M1327.2,479.0 Q1321.4,483.1 1323.2,489.9" fill="none" stroke="#f2c040" stroke-width="2.0" stroke-linecap="round" stroke-linejoin="round" />
<path d="M1341.8,484.4 Q1335.3,487.2 1335.7,494.2" fill="none" stroke="#9fce45" stroke-width="2.0" stroke-linecap="round" stroke-linejoin="round" />
<path d="M1355.0,492.7 Q1348.1,494.1 1346.9,501.0" fill="none" stroke="#8f7fd0" stroke-width="2.0" stroke-linecap="round" stroke-linejoin="round" />
<path d="M1365.9,503.6 Q1358.9,503.7 1356.5,510.3" fill="none" stroke="#5ab5e8" stroke-width="2.0" stroke-linecap="round" stroke-linejoin="round" />
<path d="M1374.8,516.3 Q1367.9,515.0 1364.3,521.1" fill="none" stroke="#f2c040" stroke-width="2.0" stroke-linecap="round" stroke-linejoin="round" />
<path d="M1381.2,530.4 Q1374.6,527.9 1369.9,533.1" fill="none" stroke="#9fce45" stroke-width="2.0" stroke-linecap="round" stroke-linejoin="round" />
<path d="M1384.8,545.7 Q1379.0,541.7 1373.2,545.7" fill="none" stroke="#8f7fd0" stroke-width="2.0" stroke-linecap="round" stroke-linejoin="round" />
<path d="M1384.5,561.2 Q1379.6,556.2 1373.1,559.0" fill="none" stroke="#5ab5e8" stroke-width="2.0" stroke-linecap="round" stroke-linejoin="round" />
<path d="M1381.5,576.4 Q1377.6,570.5 1370.7,572.0" fill="none" stroke="#f2c040" stroke-width="2.0" stroke-linecap="round" stroke-linejoin="round" />
<path d="M1375.4,590.9 Q1373.0,584.3 1366.0,584.2" fill="none" stroke="#9fce45" stroke-width="2.0" stroke-linecap="round" stroke-linejoin="round" />
<path d="M1366.6,603.1 Q1365.0,596.3 1358.0,595.3" fill="none" stroke="#8f7fd0" stroke-width="2.0" stroke-linecap="round" stroke-linejoin="round" />
<path d="M1356.6,614.0 Q1355.5,607.0 1348.6,605.6" fill="none" stroke="#5ab5e8" stroke-width="2.0" stroke-linecap="round" stroke-linejoin="round" />
<path d="M1345.9,624.1 Q1345.3,617.1 1338.5,615.2" fill="none" stroke="#f2c040" stroke-width="2.0" stroke-linecap="round" stroke-linejoin="round" />
<path d="M1334.5,633.6 Q1334.5,626.6 1327.9,624.1" fill="none" stroke="#9fce45" stroke-width="2.0" stroke-linecap="round" stroke-linejoin="round" />
<path d="M1322.3,642.2 Q1322.9,635.2 1316.6,632.1" fill="none" stroke="#8f7fd0" stroke-width="2.0" stroke-linecap="round" stroke-linejoin="round" />
<path d="M1309.4,649.3 Q1310.5,642.3 1304.4,638.8" fill="none" stroke="#5ab5e8" stroke-width="2.0" stroke-linecap="round" stroke-linejoin="round" />
<path d="M1296.5,655.5 Q1297.6,648.5 1291.5,645.0" fill="none" stroke="#f2c040" stroke-width="2.0" stroke-linecap="round" stroke-linejoin="round" />
<path d="M1283.4,661.7 Q1284.7,654.8 1278.7,651.2" fill="none" stroke="#9fce45" stroke-width="2.0" stroke-linecap="round" stroke-linejoin="round" />
<path d="M1270.1,667.7 Q1271.7,660.8 1265.8,657.0" fill="none" stroke="#8f7fd0" stroke-width="2.0" stroke-linecap="round" stroke-linejoin="round" />
<path d="M1256.7,673.1 Q1258.4,666.3 1252.6,662.3" fill="none" stroke="#5ab5e8" stroke-width="2.0" stroke-linecap="round" stroke-linejoin="round" />
<path d="M1242.9,678.4 Q1245.1,671.7 1239.6,667.3" fill="none" stroke="#f2c040" stroke-width="2.0" stroke-linecap="round" stroke-linejoin="round" />
<path d="M1228.5,682.5 Q1231.4,676.1 1226.5,671.1" fill="none" stroke="#9fce45" stroke-width="2.0" stroke-linecap="round" stroke-linejoin="round" />
<path d="M1213.3,685.1 Q1217.3,679.4 1213.4,673.5" fill="none" stroke="#8f7fd0" stroke-width="2.0" stroke-linecap="round" stroke-linejoin="round" />
<path d="M1197.6,684.7 Q1202.8,680.0 1200.3,673.4" fill="none" stroke="#5ab5e8" stroke-width="2.0" stroke-linecap="round" stroke-linejoin="round" />
<path d="M1182.8,681.1 Q1188.7,677.3 1187.2,670.4" fill="none" stroke="#f2c040" stroke-width="2.0" stroke-linecap="round" stroke-linejoin="round" />
<path d="M1168.6,675.2 Q1175.1,672.4 1174.7,665.3" fill="none" stroke="#9fce45" stroke-width="2.0" stroke-linecap="round" stroke-linejoin="round" />
<path d="M1155.7,667.0 Q1162.5,665.3 1163.3,658.3" fill="none" stroke="#8f7fd0" stroke-width="2.0" stroke-linecap="round" stroke-linejoin="round" />
<path d="M1143.8,656.5 Q1150.9,656.5 1153.4,649.9" fill="none" stroke="#5ab5e8" stroke-width="2.0" stroke-linecap="round" stroke-linejoin="round" />
<path d="M1135.1,643.8 Q1142.1,645.0 1145.7,639.0" fill="none" stroke="#f2c040" stroke-width="2.0" stroke-linecap="round" stroke-linejoin="round" />
<path d="M1129.0,630.0 Q1135.6,632.2 1140.1,626.7" fill="none" stroke="#9fce45" stroke-width="2.0" stroke-linecap="round" stroke-linejoin="round" />
<path d="M1124.7,615.1 Q1130.9,618.5 1136.3,614.0" fill="none" stroke="#8f7fd0" stroke-width="2.0" stroke-linecap="round" stroke-linejoin="round" />
<path d="M1123.4,599.3 Q1128.5,604.1 1134.8,601.1" fill="none" stroke="#5ab5e8" stroke-width="2.0" stroke-linecap="round" stroke-linejoin="round" />
<path d="M1126.4,583.8 Q1130.2,589.8 1137.1,588.3" fill="none" stroke="#f2c040" stroke-width="2.0" stroke-linecap="round" stroke-linejoin="round" />
<path d="M1132.0,569.9 Q1135.2,576.2 1142.2,575.5" fill="none" stroke="#9fce45" stroke-width="2.0" stroke-linecap="round" stroke-linejoin="round" />
<path d="M1139.4,557.4 Q1142.3,563.8 1149.4,563.4" fill="none" stroke="#8f7fd0" stroke-width="2.0" stroke-linecap="round" stroke-linejoin="round" />
<circle cx="1246.3" cy="481.9" r="4.90" fill="#58b8ea" stroke="#3b9dd6" stroke-width="0.8"/>
<ellipse cx="1245.7" cy="482.5" rx="2.92" ry="2.65" fill="#9bd6f5" opacity="0.45"/>
<circle cx="1247.4" cy="495.7" r="4.90" fill="#e8488f" stroke="#d62f7a" stroke-width="0.8"/>
<ellipse cx="1246.7" cy="496.2" rx="2.92" ry="2.65" fill="#f38bb8" opacity="0.45"/>
<circle cx="1259.2" cy="479.2" r="4.90" fill="#e6e64f" stroke="#cfd238" stroke-width="0.8"/>
<ellipse cx="1258.5" cy="479.7" rx="2.92" ry="2.65" fill="#f3f39a" opacity="0.45"/>
<circle cx="1262.6" cy="492.4" r="4.90" fill="#8dc84c" stroke="#72b136" stroke-width="0.8"/>
<ellipse cx="1261.9" cy="492.9" rx="2.92" ry="2.65" fill="#b9e08a" opacity="0.45"/>
<circle cx="1275.4" cy="476.8" r="4.90" fill="#8dc84c" stroke="#72b136" stroke-width="0.8"/>
<ellipse cx="1274.7" cy="477.3" rx="2.92" ry="2.65" fill="#b9e08a" opacity="0.45"/>
<circle cx="1274.7" cy="490.6" r="4.90" fill="#e8488f" stroke="#d62f7a" stroke-width="0.8"/>
<ellipse cx="1274.1" cy="491.1" rx="2.92" ry="2.65" fill="#f38bb8" opacity="0.45"/>
<circle cx="1288.3" cy="475.5" r="4.90" fill="#e6e64f" stroke="#cfd238" stroke-width="0.8"/>
<ellipse cx="1287.7" cy="476.1" rx="2.92" ry="2.65" fill="#f3f39a" opacity="0.45"/>
<circle cx="1290.3" cy="489.0" r="4.90" fill="#8dc84c" stroke="#72b136" stroke-width="0.8"/>
<ellipse cx="1289.7" cy="489.6" rx="2.92" ry="2.65" fill="#b9e08a" opacity="0.45"/>
<circle cx="1305.0" cy="475.3" r="4.90" fill="#58b8ea" stroke="#3b9dd6" stroke-width="0.8"/>
<ellipse cx="1304.4" cy="475.8" rx="2.92" ry="2.65" fill="#9bd6f5" opacity="0.45"/>
<circle cx="1302.2" cy="488.8" r="4.90" fill="#e8488f" stroke="#d62f7a" stroke-width="0.8"/>
<ellipse cx="1301.6" cy="489.4" rx="2.92" ry="2.65" fill="#f38bb8" opacity="0.45"/>
<circle cx="1318.3" cy="476.4" r="4.90" fill="#e6e64f" stroke="#cfd238" stroke-width="0.8"/>
<ellipse cx="1317.7" cy="477.0" rx="2.92" ry="2.65" fill="#f3f39a" opacity="0.45"/>
<circle cx="1317.5" cy="490.1" r="4.90" fill="#8dc84c" stroke="#72b136" stroke-width="0.8"/>
<ellipse cx="1316.8" cy="490.6" rx="2.92" ry="2.65" fill="#b9e08a" opacity="0.45"/>
<circle cx="1335.2" cy="480.8" r="4.90" fill="#8dc84c" stroke="#72b136" stroke-width="0.8"/>
<ellipse cx="1334.6" cy="481.3" rx="2.92" ry="2.65" fill="#b9e08a" opacity="0.45"/>
<circle cx="1328.3" cy="492.8" r="4.90" fill="#e8488f" stroke="#d62f7a" stroke-width="0.8"/>
<ellipse cx="1327.7" cy="493.3" rx="2.92" ry="2.65" fill="#f38bb8" opacity="0.45"/>
<circle cx="1347.8" cy="486.9" r="4.90" fill="#e6e64f" stroke="#cfd238" stroke-width="0.8"/>
<ellipse cx="1347.1" cy="487.4" rx="2.92" ry="2.65" fill="#f3f39a" opacity="0.45"/>
<circle cx="1341.6" cy="499.1" r="4.90" fill="#8dc84c" stroke="#72b136" stroke-width="0.8"/>
<ellipse cx="1341.0" cy="499.6" rx="2.92" ry="2.65" fill="#b9e08a" opacity="0.45"/>
<circle cx="1361.6" cy="497.7" r="4.90" fill="#58b8ea" stroke="#3b9dd6" stroke-width="0.8"/>
<ellipse cx="1361.0" cy="498.2" rx="2.92" ry="2.65" fill="#9bd6f5" opacity="0.45"/>
<circle cx="1350.4" cy="505.8" r="4.90" fill="#e8488f" stroke="#d62f7a" stroke-width="0.8"/>
<ellipse cx="1349.8" cy="506.3" rx="2.92" ry="2.65" fill="#f38bb8" opacity="0.45"/>
<circle cx="1370.5" cy="508.2" r="4.90" fill="#e6e64f" stroke="#cfd238" stroke-width="0.8"/>
<ellipse cx="1369.8" cy="508.7" rx="2.92" ry="2.65" fill="#f3f39a" opacity="0.45"/>
<circle cx="1360.1" cy="517.1" r="4.90" fill="#8dc84c" stroke="#72b136" stroke-width="0.8"/>
<ellipse cx="1359.5" cy="517.6" rx="2.92" ry="2.65" fill="#b9e08a" opacity="0.45"/>
<circle cx="1379.1" cy="523.3" r="4.90" fill="#8dc84c" stroke="#72b136" stroke-width="0.8"/>
<ellipse cx="1378.5" cy="523.8" rx="2.92" ry="2.65" fill="#b9e08a" opacity="0.45"/>
<circle cx="1365.8" cy="526.8" r="4.90" fill="#e8488f" stroke="#d62f7a" stroke-width="0.8"/>
<ellipse cx="1365.1" cy="527.3" rx="2.92" ry="2.65" fill="#f38bb8" opacity="0.45"/>
<circle cx="1383.6" cy="536.4" r="4.90" fill="#e6e64f" stroke="#cfd238" stroke-width="0.8"/>
<ellipse cx="1383.0" cy="536.9" rx="2.92" ry="2.65" fill="#f3f39a" opacity="0.45"/>
<circle cx="1370.7" cy="540.7" r="4.90" fill="#8dc84c" stroke="#72b136" stroke-width="0.8"/>
<ellipse cx="1370.1" cy="541.3" rx="2.92" ry="2.65" fill="#b9e08a" opacity="0.45"/>
<circle cx="1385.8" cy="553.9" r="4.90" fill="#58b8ea" stroke="#3b9dd6" stroke-width="0.8"/>
<ellipse cx="1385.1" cy="554.5" rx="2.92" ry="2.65" fill="#9bd6f5" opacity="0.45"/>
<circle cx="1372.2" cy="551.5" r="4.90" fill="#e8488f" stroke="#d62f7a" stroke-width="0.8"/>
<ellipse cx="1371.5" cy="552.1" rx="2.92" ry="2.65" fill="#f38bb8" opacity="0.45"/>
<circle cx="1384.2" cy="567.7" r="4.90" fill="#e6e64f" stroke="#cfd238" stroke-width="0.8"/>
<ellipse cx="1383.6" cy="568.2" rx="2.92" ry="2.65" fill="#f3f39a" opacity="0.45"/>
<circle cx="1370.7" cy="566.2" r="4.90" fill="#8dc84c" stroke="#72b136" stroke-width="0.8"/>
<ellipse cx="1370.0" cy="566.7" rx="2.92" ry="2.65" fill="#b9e08a" opacity="0.45"/>
<circle cx="1379.3" cy="584.4" r="4.90" fill="#8dc84c" stroke="#72b136" stroke-width="0.8"/>
<ellipse cx="1378.6" cy="584.9" rx="2.92" ry="2.65" fill="#b9e08a" opacity="0.45"/>
<circle cx="1367.6" cy="577.0" r="4.90" fill="#e8488f" stroke="#d62f7a" stroke-width="0.8"/>
<ellipse cx="1367.0" cy="577.5" rx="2.92" ry="2.65" fill="#f38bb8" opacity="0.45"/>
<circle cx="1372.5" cy="596.7" r="4.90" fill="#e6e64f" stroke="#cfd238" stroke-width="0.8"/>
<ellipse cx="1371.9" cy="597.3" rx="2.92" ry="2.65" fill="#f3f39a" opacity="0.45"/>
<circle cx="1360.7" cy="589.8" r="4.90" fill="#8dc84c" stroke="#72b136" stroke-width="0.8"/>
<ellipse cx="1360.1" cy="590.4" rx="2.92" ry="2.65" fill="#b9e08a" opacity="0.45"/>
<circle cx="1361.8" cy="609.9" r="4.90" fill="#58b8ea" stroke="#3b9dd6" stroke-width="0.8"/>
<ellipse cx="1361.2" cy="610.4" rx="2.92" ry="2.65" fill="#9bd6f5" opacity="0.45"/>
<circle cx="1353.4" cy="598.9" r="4.90" fill="#e8488f" stroke="#d62f7a" stroke-width="0.8"/>
<ellipse cx="1352.7" cy="599.5" rx="2.92" ry="2.65" fill="#f38bb8" opacity="0.45"/>
<circle cx="1352.6" cy="619.1" r="4.90" fill="#e6e64f" stroke="#cfd238" stroke-width="0.8"/>
<ellipse cx="1352.0" cy="619.6" rx="2.92" ry="2.65" fill="#f3f39a" opacity="0.45"/>
<circle cx="1342.4" cy="610.1" r="4.90" fill="#8dc84c" stroke="#72b136" stroke-width="0.8"/>
<ellipse cx="1341.7" cy="610.6" rx="2.92" ry="2.65" fill="#b9e08a" opacity="0.45"/>
<circle cx="1340.2" cy="630.1" r="4.90" fill="#8dc84c" stroke="#72b136" stroke-width="0.8"/>
<ellipse cx="1339.6" cy="630.7" rx="2.92" ry="2.65" fill="#b9e08a" opacity="0.45"/>
<circle cx="1333.4" cy="618.1" r="4.90" fill="#e8488f" stroke="#d62f7a" stroke-width="0.8"/>
<ellipse cx="1332.8" cy="618.7" rx="2.92" ry="2.65" fill="#f38bb8" opacity="0.45"/>
<circle cx="1329.8" cy="638.1" r="4.90" fill="#ef7a3c" stroke="#e2602a" stroke-width="0.8"/>
<ellipse cx="1329.2" cy="638.6" rx="2.92" ry="2.65" fill="#f6a777" opacity="0.45"/>
<circle cx="1321.1" cy="627.6" r="4.90" fill="#8dc84c" stroke="#72b136" stroke-width="0.8"/>
<ellipse cx="1320.4" cy="628.2" rx="2.92" ry="2.65" fill="#b9e08a" opacity="0.45"/>
<circle cx="1315.6" cy="647.1" r="4.90" fill="#58b8ea" stroke="#3b9dd6" stroke-width="0.8"/>
<ellipse cx="1315.0" cy="647.6" rx="2.92" ry="2.65" fill="#9bd6f5" opacity="0.45"/>
<circle cx="1311.1" cy="634.0" r="4.90" fill="#ef7a3c" stroke="#e2602a" stroke-width="0.8"/>
<ellipse cx="1310.4" cy="634.6" rx="2.92" ry="2.65" fill="#f6a777" opacity="0.45"/>
<circle cx="1304.1" cy="653.0" r="4.90" fill="#e6e64f" stroke="#cfd238" stroke-width="0.8"/>
<ellipse cx="1303.5" cy="653.5" rx="2.92" ry="2.65" fill="#f3f39a" opacity="0.45"/>
<circle cx="1297.1" cy="641.2" r="4.90" fill="#8dc84c" stroke="#72b136" stroke-width="0.8"/>
<ellipse cx="1296.5" cy="641.8" rx="2.92" ry="2.65" fill="#b9e08a" opacity="0.45"/>
<circle cx="1289.5" cy="659.9" r="4.90" fill="#8dc84c" stroke="#72b136" stroke-width="0.8"/>
<ellipse cx="1288.9" cy="660.5" rx="2.92" ry="2.65" fill="#b9e08a" opacity="0.45"/>
<circle cx="1285.8" cy="646.6" r="4.90" fill="#e8488f" stroke="#d62f7a" stroke-width="0.8"/>
<ellipse cx="1285.2" cy="647.2" rx="2.92" ry="2.65" fill="#f38bb8" opacity="0.45"/>
<circle cx="1278.0" cy="665.3" r="4.90" fill="#e6e64f" stroke="#cfd238" stroke-width="0.8"/>
<ellipse cx="1277.4" cy="665.8" rx="2.92" ry="2.65" fill="#f3f39a" opacity="0.45"/>
<circle cx="1271.3" cy="653.4" r="4.90" fill="#8dc84c" stroke="#72b136" stroke-width="0.8"/>
<ellipse cx="1270.7" cy="653.9" rx="2.92" ry="2.65" fill="#b9e08a" opacity="0.45"/>
<circle cx="1262.9" cy="671.7" r="4.90" fill="#58b8ea" stroke="#3b9dd6" stroke-width="0.8"/>
<ellipse cx="1262.3" cy="672.2" rx="2.92" ry="2.65" fill="#9bd6f5" opacity="0.45"/>
<circle cx="1260.0" cy="658.2" r="4.90" fill="#e8488f" stroke="#d62f7a" stroke-width="0.8"/>
<ellipse cx="1259.4" cy="658.7" rx="2.92" ry="2.65" fill="#f38bb8" opacity="0.45"/>
<circle cx="1251.1" cy="676.3" r="4.90" fill="#e6e64f" stroke="#cfd238" stroke-width="0.8"/>
<ellipse cx="1250.5" cy="676.9" rx="2.92" ry="2.65" fill="#f3f39a" opacity="0.45"/>
<circle cx="1245.2" cy="664.0" r="4.90" fill="#8dc84c" stroke="#72b136" stroke-width="0.8"/>
<ellipse cx="1244.5" cy="664.6" rx="2.92" ry="2.65" fill="#b9e08a" opacity="0.45"/>
<circle cx="1235.4" cy="681.7" r="4.90" fill="#8dc84c" stroke="#72b136" stroke-width="0.8"/>
<ellipse cx="1234.7" cy="682.2" rx="2.92" ry="2.65" fill="#b9e08a" opacity="0.45"/>
<circle cx="1233.8" cy="668.0" r="4.90" fill="#e8488f" stroke="#d62f7a" stroke-width="0.8"/>
<ellipse cx="1233.2" cy="668.5" rx="2.92" ry="2.65" fill="#f38bb8" opacity="0.45"/>
<circle cx="1222.3" cy="684.6" r="4.90" fill="#e6e64f" stroke="#cfd238" stroke-width="0.8"/>
<ellipse cx="1221.7" cy="685.1" rx="2.92" ry="2.65" fill="#f3f39a" opacity="0.45"/>
<circle cx="1218.9" cy="671.4" r="4.90" fill="#8dc84c" stroke="#72b136" stroke-width="0.8"/>
<ellipse cx="1218.2" cy="671.9" rx="2.92" ry="2.65" fill="#b9e08a" opacity="0.45"/>
<circle cx="1205.1" cy="686.0" r="4.90" fill="#58b8ea" stroke="#3b9dd6" stroke-width="0.8"/>
<ellipse cx="1204.4" cy="686.6" rx="2.92" ry="2.65" fill="#9bd6f5" opacity="0.45"/>
<circle cx="1207.6" cy="672.5" r="4.90" fill="#e8488f" stroke="#d62f7a" stroke-width="0.8"/>
<ellipse cx="1207.0" cy="673.0" rx="2.92" ry="2.65" fill="#f38bb8" opacity="0.45"/>
<circle cx="1191.1" cy="684.2" r="4.90" fill="#e6e64f" stroke="#cfd238" stroke-width="0.8"/>
<ellipse cx="1190.5" cy="684.7" rx="2.92" ry="2.65" fill="#f3f39a" opacity="0.45"/>
<circle cx="1193.1" cy="670.7" r="4.90" fill="#8dc84c" stroke="#72b136" stroke-width="0.8"/>
<ellipse cx="1192.5" cy="671.2" rx="2.92" ry="2.65" fill="#b9e08a" opacity="0.45"/>
<circle cx="1174.8" cy="678.9" r="4.90" fill="#8dc84c" stroke="#72b136" stroke-width="0.8"/>
<ellipse cx="1174.2" cy="679.4" rx="2.92" ry="2.65" fill="#b9e08a" opacity="0.45"/>
<circle cx="1182.2" cy="667.2" r="4.90" fill="#e8488f" stroke="#d62f7a" stroke-width="0.8"/>
<ellipse cx="1181.6" cy="667.8" rx="2.92" ry="2.65" fill="#f38bb8" opacity="0.45"/>
<circle cx="1162.7" cy="672.7" r="4.90" fill="#e6e64f" stroke="#cfd238" stroke-width="0.8"/>
<ellipse cx="1162.0" cy="673.2" rx="2.92" ry="2.65" fill="#f3f39a" opacity="0.45"/>
<circle cx="1168.8" cy="660.5" r="4.90" fill="#8dc84c" stroke="#72b136" stroke-width="0.8"/>
<ellipse cx="1168.2" cy="661.0" rx="2.92" ry="2.65" fill="#b9e08a" opacity="0.45"/>
<circle cx="1148.8" cy="662.4" r="4.90" fill="#58b8ea" stroke="#3b9dd6" stroke-width="0.8"/>
<ellipse cx="1148.2" cy="662.9" rx="2.92" ry="2.65" fill="#9bd6f5" opacity="0.45"/>
<circle cx="1159.6" cy="653.8" r="4.90" fill="#e8488f" stroke="#d62f7a" stroke-width="0.8"/>
<ellipse cx="1159.0" cy="654.3" rx="2.92" ry="2.65" fill="#f38bb8" opacity="0.45"/>
<circle cx="1139.3" cy="651.8" r="4.90" fill="#e6e64f" stroke="#cfd238" stroke-width="0.8"/>
<ellipse cx="1138.7" cy="652.4" rx="2.92" ry="2.65" fill="#f3f39a" opacity="0.45"/>
<circle cx="1149.9" cy="643.1" r="4.90" fill="#8dc84c" stroke="#72b136" stroke-width="0.8"/>
<ellipse cx="1149.2" cy="643.7" rx="2.92" ry="2.65" fill="#b9e08a" opacity="0.45"/>
<circle cx="1130.9" cy="636.7" r="4.90" fill="#8dc84c" stroke="#72b136" stroke-width="0.8"/>
<ellipse cx="1130.2" cy="637.2" rx="2.92" ry="2.65" fill="#b9e08a" opacity="0.45"/>
<circle cx="1144.3" cy="633.3" r="4.90" fill="#e8488f" stroke="#d62f7a" stroke-width="0.8"/>
<ellipse cx="1143.6" cy="633.9" rx="2.92" ry="2.65" fill="#f38bb8" opacity="0.45"/>
<circle cx="1126.2" cy="624.1" r="4.90" fill="#e6e64f" stroke="#cfd238" stroke-width="0.8"/>
<ellipse cx="1125.5" cy="624.6" rx="2.92" ry="2.65" fill="#f3f39a" opacity="0.45"/>
<circle cx="1138.9" cy="619.1" r="4.90" fill="#8dc84c" stroke="#72b136" stroke-width="0.8"/>
<ellipse cx="1138.3" cy="619.6" rx="2.92" ry="2.65" fill="#b9e08a" opacity="0.45"/>
<circle cx="1123.0" cy="607.0" r="4.90" fill="#58b8ea" stroke="#3b9dd6" stroke-width="0.8"/>
<ellipse cx="1122.3" cy="607.5" rx="2.92" ry="2.65" fill="#9bd6f5" opacity="0.45"/>
<circle cx="1136.7" cy="608.1" r="4.90" fill="#e8488f" stroke="#d62f7a" stroke-width="0.8"/>
<ellipse cx="1136.1" cy="608.6" rx="2.92" ry="2.65" fill="#f38bb8" opacity="0.45"/>
<circle cx="1123.4" cy="592.8" r="4.90" fill="#e6e64f" stroke="#cfd238" stroke-width="0.8"/>
<ellipse cx="1122.7" cy="593.3" rx="2.92" ry="2.65" fill="#f3f39a" opacity="0.45"/>
<circle cx="1137.0" cy="593.7" r="4.90" fill="#8dc84c" stroke="#72b136" stroke-width="0.8"/>
<ellipse cx="1136.4" cy="594.3" rx="2.92" ry="2.65" fill="#b9e08a" opacity="0.45"/>
<circle cx="1128.6" cy="575.9" r="4.90" fill="#8dc84c" stroke="#72b136" stroke-width="0.8"/>
<ellipse cx="1128.0" cy="576.4" rx="2.92" ry="2.65" fill="#b9e08a" opacity="0.45"/>
<circle cx="1140.3" cy="583.3" r="4.90" fill="#e8488f" stroke="#d62f7a" stroke-width="0.8"/>
<ellipse cx="1139.6" cy="583.8" rx="2.92" ry="2.65" fill="#f38bb8" opacity="0.45"/>
<circle cx="1134.2" cy="563.8" r="4.90" fill="#e6e64f" stroke="#cfd238" stroke-width="0.8"/>
<ellipse cx="1133.6" cy="564.4" rx="2.92" ry="2.65" fill="#f3f39a" opacity="0.45"/>
<circle cx="1146.7" cy="569.3" r="4.90" fill="#8dc84c" stroke="#72b136" stroke-width="0.8"/>
<ellipse cx="1146.1" cy="569.9" rx="2.92" ry="2.65" fill="#b9e08a" opacity="0.45"/>
<line x1="1231.4" y1="489.0" x2="1230.0" y2="495.6" stroke="#8cc544" stroke-width="2.7" stroke-linecap="round"/>
<line x1="1234.3" y1="489.6" x2="1232.8" y2="496.2" stroke="#5f86d2" stroke-width="2.7" stroke-linecap="round"/>
<line x1="1237.1" y1="490.2" x2="1235.6" y2="496.9" stroke="#e23a3a" stroke-width="2.7" stroke-linecap="round"/>
<line x1="1153.1" y1="551.7" x2="1147.7" y2="547.5" stroke="#8cc544" stroke-width="2.7" stroke-linecap="round"/>
<line x1="1151.3" y1="554.0" x2="1145.9" y2="549.8" stroke="#5f86d2" stroke-width="2.7" stroke-linecap="round"/>
<line x1="1149.5" y1="556.3" x2="1144.1" y2="552.0" stroke="#e23a3a" stroke-width="2.7" stroke-linecap="round"/>
<g transform="translate(1196.3,507.6) rotate(-22)"><rect x="-5.6" y="-3" width="11.2" height="6" rx="2" fill="#2f6fa8"/><path d="M-3,-3 L-1.5,3 M0.2,-3 L1.7,3 M3.2,-3 L4.6,3" stroke="#6fa8da" stroke-width="0.9" fill="none"/></g></svg>
<div class="t body" style="left:340.0px;top:201.9px;font-size:15.5px;transform-origin:0 0.8465em;transform:rotate(-2.5deg) scaleX(0.8557)">Placer les 2 fils de 50 cm au milieu</div>
<div class="t body" style="left:341.0px;top:222.9px;font-size:15.5px;transform-origin:0 0.8465em;transform:rotate(-2.5deg) scaleX(0.8465)">et les 2 fils de 1m de part et d&#x27;autre.</div>
<div class="t body" style="left:343.0px;top:243.9px;font-size:15.5px;transform-origin:0 0.8465em;transform:rotate(-2.5deg) scaleX(0.8324)">Nouer les fils ensemble, à 10 cm</div>
<div class="t body" style="left:344.0px;top:265.9px;font-size:15.5px;transform-origin:0 0.8465em;transform:rotate(-2.5deg) scaleX(0.8550)">de l&#x27;extrémité.</div>
<div class="t body" style="left:439.0px;top:371.6px;font-size:15.5px;transform-origin:0 0.8465em;transform:rotate(-2.8deg) scaleX(0.8366)">Glisse une perle</div>
<div class="t body" style="left:439.9px;top:393.2px;font-size:15.5px;transform-origin:0 0.8465em;transform:rotate(-2.8deg) scaleX(0.8635)">sur le fil tout à gauche</div>
<div class="t body" style="left:440.7px;top:413.9px;font-size:15.5px;transform-origin:0 0.8465em;transform:rotate(-2.8deg) scaleX(0.8726)">et le fil tout à droite.</div>
<div class="t body" style="left:366.0px;top:565.7px;font-size:15.5px;transform-origin:0 0.8465em;transform:rotate(-2.5deg) scaleX(0.8527)">Tu vas pouvoir nouer les fils de gauche et de droite</div>
<div class="t body" style="left:367.3px;top:587.8px;font-size:15.5px;transform-origin:0 0.8465em;transform:rotate(-2.5deg) scaleX(0.8659)">comme pour le porte-clés en macramé. Place le</div>
<div class="t body" style="left:368.0px;top:608.6px;font-size:15.5px;transform-origin:0 0.8465em;transform:rotate(-2.5deg) scaleX(0.8609)">fil de droite sur les fils du milieu et passe celui de</div>
<div class="t body" style="left:369.0px;top:629.4px;font-size:15.5px;transform-origin:0 0.8465em;transform:rotate(-2.5deg) scaleX(0.8499)">gauche sous les fils du milieu. Passe le fil de droite</div>
<div class="t body" style="left:370.7px;top:651.5px;font-size:15.5px;transform-origin:0 0.8465em;transform:rotate(-2.5deg) scaleX(0.8529)">dans la boucle du fil de gauche et le fil de gauche</div>
<div class="t body" style="left:371.7px;top:672.3px;font-size:15.5px;transform-origin:0 0.8465em;transform:rotate(-2.5deg) scaleX(0.8568)">dans la boucle du fil de droite.</div>
<div class="t body" style="left:940.7px;top:149.9px;font-size:15.5px;transform-origin:0 0.8465em;transform:rotate(-2.5deg) scaleX(0.8603)">Continue à nouer tes fils de cette manière,</div>
<div class="t body" style="left:941.5px;top:171.2px;font-size:15.5px;transform-origin:0 0.8465em;transform:rotate(-2.5deg) scaleX(0.8654)">en alternant cette fois le fil du dessus</div>
<div class="t body" style="left:942.5px;top:192.6px;font-size:15.5px;transform-origin:0 0.8465em;transform:rotate(-2.5deg) scaleX(0.8449)">et du dessous (une fois celui de gauche,</div>
<div class="t body" style="left:944.0px;top:213.9px;font-size:15.5px;transform-origin:0 0.8465em;transform:rotate(-2.5deg) scaleX(0.8591)">une fois celui de droite). A la fin de chaque</div>
<div class="t body" style="left:945.2px;top:235.2px;font-size:15.5px;transform-origin:0 0.8465em;transform:rotate(-2.5deg) scaleX(0.8473)">nœud, glisse une perle sur chacun des fils</div>
<div class="t body" style="left:946.3px;top:256.6px;font-size:15.5px;transform-origin:0 0.8465em;transform:rotate(-2.5deg) scaleX(0.8483)">de gauche et de droite.</div>
<div class="t body" style="left:888.8px;top:379.7px;font-size:15.5px;transform-origin:0 0.8465em;transform:rotate(-2.5deg) scaleX(0.8627)">Une fois que tu as atteint la longueur</div>
<div class="t body" style="left:889.9px;top:401.5px;font-size:15.5px;transform-origin:0 0.8465em;transform:rotate(-2.5deg) scaleX(0.8617)">du bracelet désirée (moins quelques</div>
<div class="t body" style="left:890.9px;top:422.4px;font-size:15.5px;transform-origin:0 0.8465em;transform:rotate(-2.5deg) scaleX(0.8664)">centimètres pour le nœud), fais un nœud</div>
<div class="t body" style="left:892.0px;top:443.7px;font-size:15.5px;transform-origin:0 0.8465em;transform:rotate(-2.5deg) scaleX(0.8526)">et coupe l’excédent de fil.</div>
<div class="t mat" style="left:47.0px;top:207.0px;font-size:16px;transform-origin:0 0.8465em;transform:rotate(-2.0deg) scaleX(0.9084)">2 fils multicolores</div>
<div class="t mat" style="left:73.3px;top:226.0px;font-size:16px;transform-origin:0 0.8465em;transform:rotate(-2.0deg) scaleX(0.9153)">de 50 cm</div>
<div class="t mat" style="left:27.9px;top:248.0px;font-size:16px;transform-origin:0 0.8465em;transform:rotate(-2.0deg) scaleX(0.8752)">2 fils multicolores de 1 m</div>
<div class="t mat" style="left:51.3px;top:267.1px;font-size:16px;transform-origin:0 0.8465em;transform:rotate(-2.0deg) scaleX(0.8840)">Environ 40 perles</div>
<div class="t mat" style="left:80.7px;top:286.2px;font-size:16px;transform-origin:0 0.8465em;transform:rotate(-2.0deg) scaleX(0.8735)">colorées</div>
<div class="t h" style="left:52.8px;top:179.7px;font-size:18.5px;letter-spacing:2.2px;transform-origin:0 0.8465em;transform:rotate(-3.0deg) scaleX(0.8927)">MATÉRiEL</div>
<div class="t h" style="left:334.0px;top:160.9px;font-size:18.5px;letter-spacing:2.6px;transform-origin:0 0.8465em;transform:rotate(-3.0deg) scaleX(0.7017)">ÉTAPE 1</div>
<div class="t h" style="left:431.2px;top:329.7px;font-size:18.5px;letter-spacing:2.6px;transform-origin:0 0.8465em;transform:rotate(-3.0deg) scaleX(0.7510)">ÉTAPE 2</div>
<div class="t h" style="left:359.5px;top:524.7px;font-size:18.5px;letter-spacing:2.6px;transform-origin:0 0.8465em;transform:rotate(-3.0deg) scaleX(0.7400)">ÉTAPE 3</div>
<div class="t h" style="left:934.0px;top:108.4px;font-size:18.5px;letter-spacing:2.6px;transform-origin:0 0.8465em;transform:rotate(-3.0deg) scaleX(0.7455)">ÉTAPE 4</div>
<div class="t h" style="left:881.3px;top:338.2px;font-size:18.5px;letter-spacing:2.6px;transform-origin:0 0.8465em;transform:rotate(-3.0deg) scaleX(0.7367)">ÉTAPE 5</div>
<div class="t h" style="left:970.7px;top:543.9px;font-size:20.5px;letter-spacing:1.8px;transform-origin:0 0.8465em;transform:rotate(-3.0deg) scaleX(0.8310)">TON</div>
<div class="t h" style="left:1017.3px;top:541.5px;font-size:20.5px;letter-spacing:1.8px;transform-origin:0 0.8465em;transform:rotate(-3.0deg) scaleX(0.7207)">BRACELET</div>
<div class="t h" style="left:974.7px;top:567.9px;font-size:20.5px;letter-spacing:1.8px;transform-origin:0 0.8465em;transform:rotate(-3.0deg) scaleX(0.7942)">MULTiCOLORE</div>
<div class="t h" style="left:977.3px;top:593.3px;font-size:20.5px;letter-spacing:1.8px;transform-origin:0 0.8465em;transform:rotate(-3.0deg) scaleX(0.6494)">EST</div>
<div class="t h" style="left:1013.5px;top:591.4px;font-size:20.5px;letter-spacing:1.8px;transform-origin:0 0.8465em;transform:rotate(-3.0deg) scaleX(0.7822)">TERMiNÉ</div>
<div class="t h" style="left:1101.0px;top:586.9px;font-size:20.5px;letter-spacing:1.8px;transform-origin:0 0.8465em;transform:rotate(-3.0deg) scaleX(0.7612)">!</div>
<div class="t title" style="left:153.8px;top:57.3px;font-size:37.5px;letter-spacing:4px;transform-origin:0 0.8465em;transform:scaleX(0.7298)">MON</div>
<div class="t title" style="left:236.5px;top:57.3px;font-size:37.5px;letter-spacing:4px;transform-origin:0 0.8465em;transform:scaleX(0.6482)">BRACELET</div>
<div class="t title" style="left:397.0px;top:57.3px;font-size:37.5px;letter-spacing:4px;transform-origin:0 0.8465em;transform:scaleX(0.7062)">MULTiCOLORE</div>
<div class="pg" style="left:28.5px;top:698px">4</div>
<div class="pg" style="left:1445.5px;top:698px">5</div>
</body></html>
